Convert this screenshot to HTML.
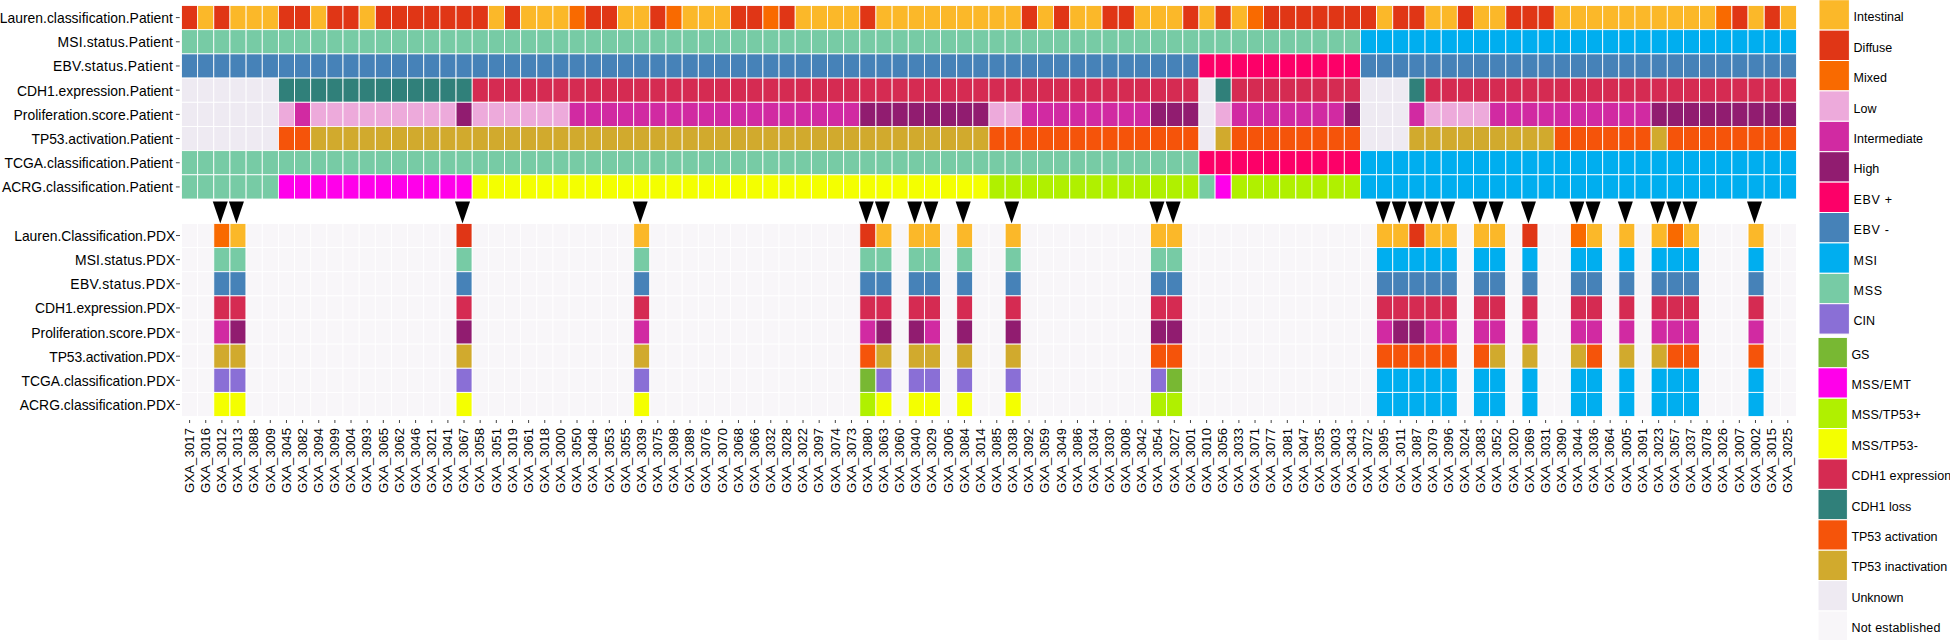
<!DOCTYPE html><html><head><meta charset="utf-8"><title>heatmap</title><style>html,body{margin:0;padding:0;background:#fff}svg{display:block}text{font-family:"Liberation Sans",sans-serif;fill:#000}</style></head><body>
<svg width="1950" height="640" viewBox="0 0 1950 640">
<rect width="1950" height="640" fill="#fff"/>
<g stroke="#fff" stroke-width="0.85">
<rect x="181.50" y="5.50" width="16.15" height="24.19" fill="#E03616"/>
<rect x="197.65" y="5.50" width="16.15" height="24.19" fill="#FBB829"/>
<rect x="213.80" y="5.50" width="16.15" height="24.19" fill="#E03616"/>
<rect x="229.95" y="5.50" width="16.15" height="24.19" fill="#FBB829"/>
<rect x="246.10" y="5.50" width="16.15" height="24.19" fill="#FBB829"/>
<rect x="262.25" y="5.50" width="16.15" height="24.19" fill="#FBB829"/>
<rect x="278.40" y="5.50" width="16.15" height="24.19" fill="#E03616"/>
<rect x="294.55" y="5.50" width="16.15" height="24.19" fill="#E03616"/>
<rect x="310.70" y="5.50" width="16.15" height="24.19" fill="#FBB829"/>
<rect x="326.85" y="5.50" width="16.15" height="24.19" fill="#E03616"/>
<rect x="343.00" y="5.50" width="16.15" height="24.19" fill="#E03616"/>
<rect x="359.15" y="5.50" width="16.15" height="24.19" fill="#FBB829"/>
<rect x="375.30" y="5.50" width="16.15" height="24.19" fill="#E03616"/>
<rect x="391.45" y="5.50" width="16.15" height="24.19" fill="#E03616"/>
<rect x="407.60" y="5.50" width="16.15" height="24.19" fill="#E03616"/>
<rect x="423.75" y="5.50" width="16.15" height="24.19" fill="#E03616"/>
<rect x="439.90" y="5.50" width="16.15" height="24.19" fill="#E03616"/>
<rect x="456.05" y="5.50" width="16.15" height="24.19" fill="#E03616"/>
<rect x="472.20" y="5.50" width="16.15" height="24.19" fill="#E03616"/>
<rect x="488.35" y="5.50" width="16.15" height="24.19" fill="#FBB829"/>
<rect x="504.50" y="5.50" width="16.15" height="24.19" fill="#E03616"/>
<rect x="520.65" y="5.50" width="16.15" height="24.19" fill="#FBB829"/>
<rect x="536.80" y="5.50" width="16.15" height="24.19" fill="#FBB829"/>
<rect x="552.95" y="5.50" width="16.15" height="24.19" fill="#FBB829"/>
<rect x="569.10" y="5.50" width="16.15" height="24.19" fill="#F96A00"/>
<rect x="585.25" y="5.50" width="16.15" height="24.19" fill="#E03616"/>
<rect x="601.40" y="5.50" width="16.15" height="24.19" fill="#E03616"/>
<rect x="617.55" y="5.50" width="16.15" height="24.19" fill="#FBB829"/>
<rect x="633.70" y="5.50" width="16.15" height="24.19" fill="#FBB829"/>
<rect x="649.85" y="5.50" width="16.15" height="24.19" fill="#E03616"/>
<rect x="666.00" y="5.50" width="16.15" height="24.19" fill="#F96A00"/>
<rect x="682.15" y="5.50" width="16.15" height="24.19" fill="#FBB829"/>
<rect x="698.30" y="5.50" width="16.15" height="24.19" fill="#FBB829"/>
<rect x="714.45" y="5.50" width="16.15" height="24.19" fill="#FBB829"/>
<rect x="730.60" y="5.50" width="16.15" height="24.19" fill="#E03616"/>
<rect x="746.75" y="5.50" width="16.15" height="24.19" fill="#E03616"/>
<rect x="762.90" y="5.50" width="16.15" height="24.19" fill="#F96A00"/>
<rect x="779.05" y="5.50" width="16.15" height="24.19" fill="#E03616"/>
<rect x="795.20" y="5.50" width="16.15" height="24.19" fill="#FBB829"/>
<rect x="811.35" y="5.50" width="16.15" height="24.19" fill="#FBB829"/>
<rect x="827.50" y="5.50" width="16.15" height="24.19" fill="#FBB829"/>
<rect x="843.65" y="5.50" width="16.15" height="24.19" fill="#FBB829"/>
<rect x="859.80" y="5.50" width="16.15" height="24.19" fill="#E03616"/>
<rect x="875.95" y="5.50" width="16.15" height="24.19" fill="#FBB829"/>
<rect x="892.10" y="5.50" width="16.15" height="24.19" fill="#FBB829"/>
<rect x="908.25" y="5.50" width="16.15" height="24.19" fill="#FBB829"/>
<rect x="924.40" y="5.50" width="16.15" height="24.19" fill="#FBB829"/>
<rect x="940.55" y="5.50" width="16.15" height="24.19" fill="#FBB829"/>
<rect x="956.70" y="5.50" width="16.15" height="24.19" fill="#FBB829"/>
<rect x="972.85" y="5.50" width="16.15" height="24.19" fill="#FBB829"/>
<rect x="989.00" y="5.50" width="16.15" height="24.19" fill="#FBB829"/>
<rect x="1005.15" y="5.50" width="16.15" height="24.19" fill="#FBB829"/>
<rect x="1021.30" y="5.50" width="16.15" height="24.19" fill="#E03616"/>
<rect x="1037.45" y="5.50" width="16.15" height="24.19" fill="#FBB829"/>
<rect x="1053.60" y="5.50" width="16.15" height="24.19" fill="#E03616"/>
<rect x="1069.75" y="5.50" width="16.15" height="24.19" fill="#FBB829"/>
<rect x="1085.90" y="5.50" width="16.15" height="24.19" fill="#FBB829"/>
<rect x="1102.05" y="5.50" width="16.15" height="24.19" fill="#E03616"/>
<rect x="1118.20" y="5.50" width="16.15" height="24.19" fill="#E03616"/>
<rect x="1134.35" y="5.50" width="16.15" height="24.19" fill="#FBB829"/>
<rect x="1150.50" y="5.50" width="16.15" height="24.19" fill="#FBB829"/>
<rect x="1166.65" y="5.50" width="16.15" height="24.19" fill="#FBB829"/>
<rect x="1182.80" y="5.50" width="16.15" height="24.19" fill="#E03616"/>
<rect x="1198.95" y="5.50" width="16.15" height="24.19" fill="#FBB829"/>
<rect x="1215.10" y="5.50" width="16.15" height="24.19" fill="#E03616"/>
<rect x="1231.25" y="5.50" width="16.15" height="24.19" fill="#FBB829"/>
<rect x="1247.40" y="5.50" width="16.15" height="24.19" fill="#F96A00"/>
<rect x="1263.55" y="5.50" width="16.15" height="24.19" fill="#E03616"/>
<rect x="1279.70" y="5.50" width="16.15" height="24.19" fill="#E03616"/>
<rect x="1295.85" y="5.50" width="16.15" height="24.19" fill="#E03616"/>
<rect x="1312.00" y="5.50" width="16.15" height="24.19" fill="#E03616"/>
<rect x="1328.15" y="5.50" width="16.15" height="24.19" fill="#E03616"/>
<rect x="1344.30" y="5.50" width="16.15" height="24.19" fill="#E03616"/>
<rect x="1360.45" y="5.50" width="16.15" height="24.19" fill="#E03616"/>
<rect x="1376.60" y="5.50" width="16.15" height="24.19" fill="#FBB829"/>
<rect x="1392.75" y="5.50" width="16.15" height="24.19" fill="#E03616"/>
<rect x="1408.90" y="5.50" width="16.15" height="24.19" fill="#E03616"/>
<rect x="1425.05" y="5.50" width="16.15" height="24.19" fill="#FBB829"/>
<rect x="1441.20" y="5.50" width="16.15" height="24.19" fill="#FBB829"/>
<rect x="1457.35" y="5.50" width="16.15" height="24.19" fill="#E03616"/>
<rect x="1473.50" y="5.50" width="16.15" height="24.19" fill="#FBB829"/>
<rect x="1489.65" y="5.50" width="16.15" height="24.19" fill="#FBB829"/>
<rect x="1505.80" y="5.50" width="16.15" height="24.19" fill="#E03616"/>
<rect x="1521.95" y="5.50" width="16.15" height="24.19" fill="#E03616"/>
<rect x="1538.10" y="5.50" width="16.15" height="24.19" fill="#E03616"/>
<rect x="1554.25" y="5.50" width="16.15" height="24.19" fill="#FBB829"/>
<rect x="1570.40" y="5.50" width="16.15" height="24.19" fill="#FBB829"/>
<rect x="1586.55" y="5.50" width="16.15" height="24.19" fill="#FBB829"/>
<rect x="1602.70" y="5.50" width="16.15" height="24.19" fill="#FBB829"/>
<rect x="1618.85" y="5.50" width="16.15" height="24.19" fill="#FBB829"/>
<rect x="1635.00" y="5.50" width="16.15" height="24.19" fill="#FBB829"/>
<rect x="1651.15" y="5.50" width="16.15" height="24.19" fill="#FBB829"/>
<rect x="1667.30" y="5.50" width="16.15" height="24.19" fill="#FBB829"/>
<rect x="1683.45" y="5.50" width="16.15" height="24.19" fill="#FBB829"/>
<rect x="1699.60" y="5.50" width="16.15" height="24.19" fill="#FBB829"/>
<rect x="1715.75" y="5.50" width="16.15" height="24.19" fill="#F96A00"/>
<rect x="1731.90" y="5.50" width="16.15" height="24.19" fill="#E03616"/>
<rect x="1748.05" y="5.50" width="16.15" height="24.19" fill="#FBB829"/>
<rect x="1764.20" y="5.50" width="16.15" height="24.19" fill="#E03616"/>
<rect x="1780.35" y="5.50" width="16.15" height="24.19" fill="#FBB829"/>
<rect x="181.50" y="29.69" width="16.15" height="24.19" fill="#77CBA5"/>
<rect x="197.65" y="29.69" width="16.15" height="24.19" fill="#77CBA5"/>
<rect x="213.80" y="29.69" width="16.15" height="24.19" fill="#77CBA5"/>
<rect x="229.95" y="29.69" width="16.15" height="24.19" fill="#77CBA5"/>
<rect x="246.10" y="29.69" width="16.15" height="24.19" fill="#77CBA5"/>
<rect x="262.25" y="29.69" width="16.15" height="24.19" fill="#77CBA5"/>
<rect x="278.40" y="29.69" width="16.15" height="24.19" fill="#77CBA5"/>
<rect x="294.55" y="29.69" width="16.15" height="24.19" fill="#77CBA5"/>
<rect x="310.70" y="29.69" width="16.15" height="24.19" fill="#77CBA5"/>
<rect x="326.85" y="29.69" width="16.15" height="24.19" fill="#77CBA5"/>
<rect x="343.00" y="29.69" width="16.15" height="24.19" fill="#77CBA5"/>
<rect x="359.15" y="29.69" width="16.15" height="24.19" fill="#77CBA5"/>
<rect x="375.30" y="29.69" width="16.15" height="24.19" fill="#77CBA5"/>
<rect x="391.45" y="29.69" width="16.15" height="24.19" fill="#77CBA5"/>
<rect x="407.60" y="29.69" width="16.15" height="24.19" fill="#77CBA5"/>
<rect x="423.75" y="29.69" width="16.15" height="24.19" fill="#77CBA5"/>
<rect x="439.90" y="29.69" width="16.15" height="24.19" fill="#77CBA5"/>
<rect x="456.05" y="29.69" width="16.15" height="24.19" fill="#77CBA5"/>
<rect x="472.20" y="29.69" width="16.15" height="24.19" fill="#77CBA5"/>
<rect x="488.35" y="29.69" width="16.15" height="24.19" fill="#77CBA5"/>
<rect x="504.50" y="29.69" width="16.15" height="24.19" fill="#77CBA5"/>
<rect x="520.65" y="29.69" width="16.15" height="24.19" fill="#77CBA5"/>
<rect x="536.80" y="29.69" width="16.15" height="24.19" fill="#77CBA5"/>
<rect x="552.95" y="29.69" width="16.15" height="24.19" fill="#77CBA5"/>
<rect x="569.10" y="29.69" width="16.15" height="24.19" fill="#77CBA5"/>
<rect x="585.25" y="29.69" width="16.15" height="24.19" fill="#77CBA5"/>
<rect x="601.40" y="29.69" width="16.15" height="24.19" fill="#77CBA5"/>
<rect x="617.55" y="29.69" width="16.15" height="24.19" fill="#77CBA5"/>
<rect x="633.70" y="29.69" width="16.15" height="24.19" fill="#77CBA5"/>
<rect x="649.85" y="29.69" width="16.15" height="24.19" fill="#77CBA5"/>
<rect x="666.00" y="29.69" width="16.15" height="24.19" fill="#77CBA5"/>
<rect x="682.15" y="29.69" width="16.15" height="24.19" fill="#77CBA5"/>
<rect x="698.30" y="29.69" width="16.15" height="24.19" fill="#77CBA5"/>
<rect x="714.45" y="29.69" width="16.15" height="24.19" fill="#77CBA5"/>
<rect x="730.60" y="29.69" width="16.15" height="24.19" fill="#77CBA5"/>
<rect x="746.75" y="29.69" width="16.15" height="24.19" fill="#77CBA5"/>
<rect x="762.90" y="29.69" width="16.15" height="24.19" fill="#77CBA5"/>
<rect x="779.05" y="29.69" width="16.15" height="24.19" fill="#77CBA5"/>
<rect x="795.20" y="29.69" width="16.15" height="24.19" fill="#77CBA5"/>
<rect x="811.35" y="29.69" width="16.15" height="24.19" fill="#77CBA5"/>
<rect x="827.50" y="29.69" width="16.15" height="24.19" fill="#77CBA5"/>
<rect x="843.65" y="29.69" width="16.15" height="24.19" fill="#77CBA5"/>
<rect x="859.80" y="29.69" width="16.15" height="24.19" fill="#77CBA5"/>
<rect x="875.95" y="29.69" width="16.15" height="24.19" fill="#77CBA5"/>
<rect x="892.10" y="29.69" width="16.15" height="24.19" fill="#77CBA5"/>
<rect x="908.25" y="29.69" width="16.15" height="24.19" fill="#77CBA5"/>
<rect x="924.40" y="29.69" width="16.15" height="24.19" fill="#77CBA5"/>
<rect x="940.55" y="29.69" width="16.15" height="24.19" fill="#77CBA5"/>
<rect x="956.70" y="29.69" width="16.15" height="24.19" fill="#77CBA5"/>
<rect x="972.85" y="29.69" width="16.15" height="24.19" fill="#77CBA5"/>
<rect x="989.00" y="29.69" width="16.15" height="24.19" fill="#77CBA5"/>
<rect x="1005.15" y="29.69" width="16.15" height="24.19" fill="#77CBA5"/>
<rect x="1021.30" y="29.69" width="16.15" height="24.19" fill="#77CBA5"/>
<rect x="1037.45" y="29.69" width="16.15" height="24.19" fill="#77CBA5"/>
<rect x="1053.60" y="29.69" width="16.15" height="24.19" fill="#77CBA5"/>
<rect x="1069.75" y="29.69" width="16.15" height="24.19" fill="#77CBA5"/>
<rect x="1085.90" y="29.69" width="16.15" height="24.19" fill="#77CBA5"/>
<rect x="1102.05" y="29.69" width="16.15" height="24.19" fill="#77CBA5"/>
<rect x="1118.20" y="29.69" width="16.15" height="24.19" fill="#77CBA5"/>
<rect x="1134.35" y="29.69" width="16.15" height="24.19" fill="#77CBA5"/>
<rect x="1150.50" y="29.69" width="16.15" height="24.19" fill="#77CBA5"/>
<rect x="1166.65" y="29.69" width="16.15" height="24.19" fill="#77CBA5"/>
<rect x="1182.80" y="29.69" width="16.15" height="24.19" fill="#77CBA5"/>
<rect x="1198.95" y="29.69" width="16.15" height="24.19" fill="#77CBA5"/>
<rect x="1215.10" y="29.69" width="16.15" height="24.19" fill="#77CBA5"/>
<rect x="1231.25" y="29.69" width="16.15" height="24.19" fill="#77CBA5"/>
<rect x="1247.40" y="29.69" width="16.15" height="24.19" fill="#77CBA5"/>
<rect x="1263.55" y="29.69" width="16.15" height="24.19" fill="#77CBA5"/>
<rect x="1279.70" y="29.69" width="16.15" height="24.19" fill="#77CBA5"/>
<rect x="1295.85" y="29.69" width="16.15" height="24.19" fill="#77CBA5"/>
<rect x="1312.00" y="29.69" width="16.15" height="24.19" fill="#77CBA5"/>
<rect x="1328.15" y="29.69" width="16.15" height="24.19" fill="#77CBA5"/>
<rect x="1344.30" y="29.69" width="16.15" height="24.19" fill="#77CBA5"/>
<rect x="1360.45" y="29.69" width="16.15" height="24.19" fill="#00AEEF"/>
<rect x="1376.60" y="29.69" width="16.15" height="24.19" fill="#00AEEF"/>
<rect x="1392.75" y="29.69" width="16.15" height="24.19" fill="#00AEEF"/>
<rect x="1408.90" y="29.69" width="16.15" height="24.19" fill="#00AEEF"/>
<rect x="1425.05" y="29.69" width="16.15" height="24.19" fill="#00AEEF"/>
<rect x="1441.20" y="29.69" width="16.15" height="24.19" fill="#00AEEF"/>
<rect x="1457.35" y="29.69" width="16.15" height="24.19" fill="#00AEEF"/>
<rect x="1473.50" y="29.69" width="16.15" height="24.19" fill="#00AEEF"/>
<rect x="1489.65" y="29.69" width="16.15" height="24.19" fill="#00AEEF"/>
<rect x="1505.80" y="29.69" width="16.15" height="24.19" fill="#00AEEF"/>
<rect x="1521.95" y="29.69" width="16.15" height="24.19" fill="#00AEEF"/>
<rect x="1538.10" y="29.69" width="16.15" height="24.19" fill="#00AEEF"/>
<rect x="1554.25" y="29.69" width="16.15" height="24.19" fill="#00AEEF"/>
<rect x="1570.40" y="29.69" width="16.15" height="24.19" fill="#00AEEF"/>
<rect x="1586.55" y="29.69" width="16.15" height="24.19" fill="#00AEEF"/>
<rect x="1602.70" y="29.69" width="16.15" height="24.19" fill="#00AEEF"/>
<rect x="1618.85" y="29.69" width="16.15" height="24.19" fill="#00AEEF"/>
<rect x="1635.00" y="29.69" width="16.15" height="24.19" fill="#00AEEF"/>
<rect x="1651.15" y="29.69" width="16.15" height="24.19" fill="#00AEEF"/>
<rect x="1667.30" y="29.69" width="16.15" height="24.19" fill="#00AEEF"/>
<rect x="1683.45" y="29.69" width="16.15" height="24.19" fill="#00AEEF"/>
<rect x="1699.60" y="29.69" width="16.15" height="24.19" fill="#00AEEF"/>
<rect x="1715.75" y="29.69" width="16.15" height="24.19" fill="#00AEEF"/>
<rect x="1731.90" y="29.69" width="16.15" height="24.19" fill="#00AEEF"/>
<rect x="1748.05" y="29.69" width="16.15" height="24.19" fill="#00AEEF"/>
<rect x="1764.20" y="29.69" width="16.15" height="24.19" fill="#00AEEF"/>
<rect x="1780.35" y="29.69" width="16.15" height="24.19" fill="#00AEEF"/>
<rect x="181.50" y="53.88" width="16.15" height="24.19" fill="#4682B8"/>
<rect x="197.65" y="53.88" width="16.15" height="24.19" fill="#4682B8"/>
<rect x="213.80" y="53.88" width="16.15" height="24.19" fill="#4682B8"/>
<rect x="229.95" y="53.88" width="16.15" height="24.19" fill="#4682B8"/>
<rect x="246.10" y="53.88" width="16.15" height="24.19" fill="#4682B8"/>
<rect x="262.25" y="53.88" width="16.15" height="24.19" fill="#4682B8"/>
<rect x="278.40" y="53.88" width="16.15" height="24.19" fill="#4682B8"/>
<rect x="294.55" y="53.88" width="16.15" height="24.19" fill="#4682B8"/>
<rect x="310.70" y="53.88" width="16.15" height="24.19" fill="#4682B8"/>
<rect x="326.85" y="53.88" width="16.15" height="24.19" fill="#4682B8"/>
<rect x="343.00" y="53.88" width="16.15" height="24.19" fill="#4682B8"/>
<rect x="359.15" y="53.88" width="16.15" height="24.19" fill="#4682B8"/>
<rect x="375.30" y="53.88" width="16.15" height="24.19" fill="#4682B8"/>
<rect x="391.45" y="53.88" width="16.15" height="24.19" fill="#4682B8"/>
<rect x="407.60" y="53.88" width="16.15" height="24.19" fill="#4682B8"/>
<rect x="423.75" y="53.88" width="16.15" height="24.19" fill="#4682B8"/>
<rect x="439.90" y="53.88" width="16.15" height="24.19" fill="#4682B8"/>
<rect x="456.05" y="53.88" width="16.15" height="24.19" fill="#4682B8"/>
<rect x="472.20" y="53.88" width="16.15" height="24.19" fill="#4682B8"/>
<rect x="488.35" y="53.88" width="16.15" height="24.19" fill="#4682B8"/>
<rect x="504.50" y="53.88" width="16.15" height="24.19" fill="#4682B8"/>
<rect x="520.65" y="53.88" width="16.15" height="24.19" fill="#4682B8"/>
<rect x="536.80" y="53.88" width="16.15" height="24.19" fill="#4682B8"/>
<rect x="552.95" y="53.88" width="16.15" height="24.19" fill="#4682B8"/>
<rect x="569.10" y="53.88" width="16.15" height="24.19" fill="#4682B8"/>
<rect x="585.25" y="53.88" width="16.15" height="24.19" fill="#4682B8"/>
<rect x="601.40" y="53.88" width="16.15" height="24.19" fill="#4682B8"/>
<rect x="617.55" y="53.88" width="16.15" height="24.19" fill="#4682B8"/>
<rect x="633.70" y="53.88" width="16.15" height="24.19" fill="#4682B8"/>
<rect x="649.85" y="53.88" width="16.15" height="24.19" fill="#4682B8"/>
<rect x="666.00" y="53.88" width="16.15" height="24.19" fill="#4682B8"/>
<rect x="682.15" y="53.88" width="16.15" height="24.19" fill="#4682B8"/>
<rect x="698.30" y="53.88" width="16.15" height="24.19" fill="#4682B8"/>
<rect x="714.45" y="53.88" width="16.15" height="24.19" fill="#4682B8"/>
<rect x="730.60" y="53.88" width="16.15" height="24.19" fill="#4682B8"/>
<rect x="746.75" y="53.88" width="16.15" height="24.19" fill="#4682B8"/>
<rect x="762.90" y="53.88" width="16.15" height="24.19" fill="#4682B8"/>
<rect x="779.05" y="53.88" width="16.15" height="24.19" fill="#4682B8"/>
<rect x="795.20" y="53.88" width="16.15" height="24.19" fill="#4682B8"/>
<rect x="811.35" y="53.88" width="16.15" height="24.19" fill="#4682B8"/>
<rect x="827.50" y="53.88" width="16.15" height="24.19" fill="#4682B8"/>
<rect x="843.65" y="53.88" width="16.15" height="24.19" fill="#4682B8"/>
<rect x="859.80" y="53.88" width="16.15" height="24.19" fill="#4682B8"/>
<rect x="875.95" y="53.88" width="16.15" height="24.19" fill="#4682B8"/>
<rect x="892.10" y="53.88" width="16.15" height="24.19" fill="#4682B8"/>
<rect x="908.25" y="53.88" width="16.15" height="24.19" fill="#4682B8"/>
<rect x="924.40" y="53.88" width="16.15" height="24.19" fill="#4682B8"/>
<rect x="940.55" y="53.88" width="16.15" height="24.19" fill="#4682B8"/>
<rect x="956.70" y="53.88" width="16.15" height="24.19" fill="#4682B8"/>
<rect x="972.85" y="53.88" width="16.15" height="24.19" fill="#4682B8"/>
<rect x="989.00" y="53.88" width="16.15" height="24.19" fill="#4682B8"/>
<rect x="1005.15" y="53.88" width="16.15" height="24.19" fill="#4682B8"/>
<rect x="1021.30" y="53.88" width="16.15" height="24.19" fill="#4682B8"/>
<rect x="1037.45" y="53.88" width="16.15" height="24.19" fill="#4682B8"/>
<rect x="1053.60" y="53.88" width="16.15" height="24.19" fill="#4682B8"/>
<rect x="1069.75" y="53.88" width="16.15" height="24.19" fill="#4682B8"/>
<rect x="1085.90" y="53.88" width="16.15" height="24.19" fill="#4682B8"/>
<rect x="1102.05" y="53.88" width="16.15" height="24.19" fill="#4682B8"/>
<rect x="1118.20" y="53.88" width="16.15" height="24.19" fill="#4682B8"/>
<rect x="1134.35" y="53.88" width="16.15" height="24.19" fill="#4682B8"/>
<rect x="1150.50" y="53.88" width="16.15" height="24.19" fill="#4682B8"/>
<rect x="1166.65" y="53.88" width="16.15" height="24.19" fill="#4682B8"/>
<rect x="1182.80" y="53.88" width="16.15" height="24.19" fill="#4682B8"/>
<rect x="1198.95" y="53.88" width="16.15" height="24.19" fill="#FC0068"/>
<rect x="1215.10" y="53.88" width="16.15" height="24.19" fill="#FC0068"/>
<rect x="1231.25" y="53.88" width="16.15" height="24.19" fill="#FC0068"/>
<rect x="1247.40" y="53.88" width="16.15" height="24.19" fill="#FC0068"/>
<rect x="1263.55" y="53.88" width="16.15" height="24.19" fill="#FC0068"/>
<rect x="1279.70" y="53.88" width="16.15" height="24.19" fill="#FC0068"/>
<rect x="1295.85" y="53.88" width="16.15" height="24.19" fill="#FC0068"/>
<rect x="1312.00" y="53.88" width="16.15" height="24.19" fill="#FC0068"/>
<rect x="1328.15" y="53.88" width="16.15" height="24.19" fill="#FC0068"/>
<rect x="1344.30" y="53.88" width="16.15" height="24.19" fill="#FC0068"/>
<rect x="1360.45" y="53.88" width="16.15" height="24.19" fill="#4682B8"/>
<rect x="1376.60" y="53.88" width="16.15" height="24.19" fill="#4682B8"/>
<rect x="1392.75" y="53.88" width="16.15" height="24.19" fill="#4682B8"/>
<rect x="1408.90" y="53.88" width="16.15" height="24.19" fill="#4682B8"/>
<rect x="1425.05" y="53.88" width="16.15" height="24.19" fill="#4682B8"/>
<rect x="1441.20" y="53.88" width="16.15" height="24.19" fill="#4682B8"/>
<rect x="1457.35" y="53.88" width="16.15" height="24.19" fill="#4682B8"/>
<rect x="1473.50" y="53.88" width="16.15" height="24.19" fill="#4682B8"/>
<rect x="1489.65" y="53.88" width="16.15" height="24.19" fill="#4682B8"/>
<rect x="1505.80" y="53.88" width="16.15" height="24.19" fill="#4682B8"/>
<rect x="1521.95" y="53.88" width="16.15" height="24.19" fill="#4682B8"/>
<rect x="1538.10" y="53.88" width="16.15" height="24.19" fill="#4682B8"/>
<rect x="1554.25" y="53.88" width="16.15" height="24.19" fill="#4682B8"/>
<rect x="1570.40" y="53.88" width="16.15" height="24.19" fill="#4682B8"/>
<rect x="1586.55" y="53.88" width="16.15" height="24.19" fill="#4682B8"/>
<rect x="1602.70" y="53.88" width="16.15" height="24.19" fill="#4682B8"/>
<rect x="1618.85" y="53.88" width="16.15" height="24.19" fill="#4682B8"/>
<rect x="1635.00" y="53.88" width="16.15" height="24.19" fill="#4682B8"/>
<rect x="1651.15" y="53.88" width="16.15" height="24.19" fill="#4682B8"/>
<rect x="1667.30" y="53.88" width="16.15" height="24.19" fill="#4682B8"/>
<rect x="1683.45" y="53.88" width="16.15" height="24.19" fill="#4682B8"/>
<rect x="1699.60" y="53.88" width="16.15" height="24.19" fill="#4682B8"/>
<rect x="1715.75" y="53.88" width="16.15" height="24.19" fill="#4682B8"/>
<rect x="1731.90" y="53.88" width="16.15" height="24.19" fill="#4682B8"/>
<rect x="1748.05" y="53.88" width="16.15" height="24.19" fill="#4682B8"/>
<rect x="1764.20" y="53.88" width="16.15" height="24.19" fill="#4682B8"/>
<rect x="1780.35" y="53.88" width="16.15" height="24.19" fill="#4682B8"/>
<rect x="181.50" y="78.07" width="16.15" height="24.19" fill="#EEEAF2"/>
<rect x="197.65" y="78.07" width="16.15" height="24.19" fill="#EEEAF2"/>
<rect x="213.80" y="78.07" width="16.15" height="24.19" fill="#EEEAF2"/>
<rect x="229.95" y="78.07" width="16.15" height="24.19" fill="#EEEAF2"/>
<rect x="246.10" y="78.07" width="16.15" height="24.19" fill="#EEEAF2"/>
<rect x="262.25" y="78.07" width="16.15" height="24.19" fill="#EEEAF2"/>
<rect x="278.40" y="78.07" width="16.15" height="24.19" fill="#30807A"/>
<rect x="294.55" y="78.07" width="16.15" height="24.19" fill="#30807A"/>
<rect x="310.70" y="78.07" width="16.15" height="24.19" fill="#30807A"/>
<rect x="326.85" y="78.07" width="16.15" height="24.19" fill="#30807A"/>
<rect x="343.00" y="78.07" width="16.15" height="24.19" fill="#30807A"/>
<rect x="359.15" y="78.07" width="16.15" height="24.19" fill="#30807A"/>
<rect x="375.30" y="78.07" width="16.15" height="24.19" fill="#30807A"/>
<rect x="391.45" y="78.07" width="16.15" height="24.19" fill="#30807A"/>
<rect x="407.60" y="78.07" width="16.15" height="24.19" fill="#30807A"/>
<rect x="423.75" y="78.07" width="16.15" height="24.19" fill="#30807A"/>
<rect x="439.90" y="78.07" width="16.15" height="24.19" fill="#30807A"/>
<rect x="456.05" y="78.07" width="16.15" height="24.19" fill="#30807A"/>
<rect x="472.20" y="78.07" width="16.15" height="24.19" fill="#D52B52"/>
<rect x="488.35" y="78.07" width="16.15" height="24.19" fill="#D52B52"/>
<rect x="504.50" y="78.07" width="16.15" height="24.19" fill="#D52B52"/>
<rect x="520.65" y="78.07" width="16.15" height="24.19" fill="#D52B52"/>
<rect x="536.80" y="78.07" width="16.15" height="24.19" fill="#D52B52"/>
<rect x="552.95" y="78.07" width="16.15" height="24.19" fill="#D52B52"/>
<rect x="569.10" y="78.07" width="16.15" height="24.19" fill="#D52B52"/>
<rect x="585.25" y="78.07" width="16.15" height="24.19" fill="#D52B52"/>
<rect x="601.40" y="78.07" width="16.15" height="24.19" fill="#D52B52"/>
<rect x="617.55" y="78.07" width="16.15" height="24.19" fill="#D52B52"/>
<rect x="633.70" y="78.07" width="16.15" height="24.19" fill="#D52B52"/>
<rect x="649.85" y="78.07" width="16.15" height="24.19" fill="#D52B52"/>
<rect x="666.00" y="78.07" width="16.15" height="24.19" fill="#D52B52"/>
<rect x="682.15" y="78.07" width="16.15" height="24.19" fill="#D52B52"/>
<rect x="698.30" y="78.07" width="16.15" height="24.19" fill="#D52B52"/>
<rect x="714.45" y="78.07" width="16.15" height="24.19" fill="#D52B52"/>
<rect x="730.60" y="78.07" width="16.15" height="24.19" fill="#D52B52"/>
<rect x="746.75" y="78.07" width="16.15" height="24.19" fill="#D52B52"/>
<rect x="762.90" y="78.07" width="16.15" height="24.19" fill="#D52B52"/>
<rect x="779.05" y="78.07" width="16.15" height="24.19" fill="#D52B52"/>
<rect x="795.20" y="78.07" width="16.15" height="24.19" fill="#D52B52"/>
<rect x="811.35" y="78.07" width="16.15" height="24.19" fill="#D52B52"/>
<rect x="827.50" y="78.07" width="16.15" height="24.19" fill="#D52B52"/>
<rect x="843.65" y="78.07" width="16.15" height="24.19" fill="#D52B52"/>
<rect x="859.80" y="78.07" width="16.15" height="24.19" fill="#D52B52"/>
<rect x="875.95" y="78.07" width="16.15" height="24.19" fill="#D52B52"/>
<rect x="892.10" y="78.07" width="16.15" height="24.19" fill="#D52B52"/>
<rect x="908.25" y="78.07" width="16.15" height="24.19" fill="#D52B52"/>
<rect x="924.40" y="78.07" width="16.15" height="24.19" fill="#D52B52"/>
<rect x="940.55" y="78.07" width="16.15" height="24.19" fill="#D52B52"/>
<rect x="956.70" y="78.07" width="16.15" height="24.19" fill="#D52B52"/>
<rect x="972.85" y="78.07" width="16.15" height="24.19" fill="#D52B52"/>
<rect x="989.00" y="78.07" width="16.15" height="24.19" fill="#D52B52"/>
<rect x="1005.15" y="78.07" width="16.15" height="24.19" fill="#D52B52"/>
<rect x="1021.30" y="78.07" width="16.15" height="24.19" fill="#D52B52"/>
<rect x="1037.45" y="78.07" width="16.15" height="24.19" fill="#D52B52"/>
<rect x="1053.60" y="78.07" width="16.15" height="24.19" fill="#D52B52"/>
<rect x="1069.75" y="78.07" width="16.15" height="24.19" fill="#D52B52"/>
<rect x="1085.90" y="78.07" width="16.15" height="24.19" fill="#D52B52"/>
<rect x="1102.05" y="78.07" width="16.15" height="24.19" fill="#D52B52"/>
<rect x="1118.20" y="78.07" width="16.15" height="24.19" fill="#D52B52"/>
<rect x="1134.35" y="78.07" width="16.15" height="24.19" fill="#D52B52"/>
<rect x="1150.50" y="78.07" width="16.15" height="24.19" fill="#D52B52"/>
<rect x="1166.65" y="78.07" width="16.15" height="24.19" fill="#D52B52"/>
<rect x="1182.80" y="78.07" width="16.15" height="24.19" fill="#D52B52"/>
<rect x="1198.95" y="78.07" width="16.15" height="24.19" fill="#EEEAF2"/>
<rect x="1215.10" y="78.07" width="16.15" height="24.19" fill="#30807A"/>
<rect x="1231.25" y="78.07" width="16.15" height="24.19" fill="#D52B52"/>
<rect x="1247.40" y="78.07" width="16.15" height="24.19" fill="#D52B52"/>
<rect x="1263.55" y="78.07" width="16.15" height="24.19" fill="#D52B52"/>
<rect x="1279.70" y="78.07" width="16.15" height="24.19" fill="#D52B52"/>
<rect x="1295.85" y="78.07" width="16.15" height="24.19" fill="#D52B52"/>
<rect x="1312.00" y="78.07" width="16.15" height="24.19" fill="#D52B52"/>
<rect x="1328.15" y="78.07" width="16.15" height="24.19" fill="#D52B52"/>
<rect x="1344.30" y="78.07" width="16.15" height="24.19" fill="#D52B52"/>
<rect x="1360.45" y="78.07" width="16.15" height="24.19" fill="#EEEAF2"/>
<rect x="1376.60" y="78.07" width="16.15" height="24.19" fill="#EEEAF2"/>
<rect x="1392.75" y="78.07" width="16.15" height="24.19" fill="#EEEAF2"/>
<rect x="1408.90" y="78.07" width="16.15" height="24.19" fill="#30807A"/>
<rect x="1425.05" y="78.07" width="16.15" height="24.19" fill="#D52B52"/>
<rect x="1441.20" y="78.07" width="16.15" height="24.19" fill="#D52B52"/>
<rect x="1457.35" y="78.07" width="16.15" height="24.19" fill="#D52B52"/>
<rect x="1473.50" y="78.07" width="16.15" height="24.19" fill="#D52B52"/>
<rect x="1489.65" y="78.07" width="16.15" height="24.19" fill="#D52B52"/>
<rect x="1505.80" y="78.07" width="16.15" height="24.19" fill="#D52B52"/>
<rect x="1521.95" y="78.07" width="16.15" height="24.19" fill="#D52B52"/>
<rect x="1538.10" y="78.07" width="16.15" height="24.19" fill="#D52B52"/>
<rect x="1554.25" y="78.07" width="16.15" height="24.19" fill="#D52B52"/>
<rect x="1570.40" y="78.07" width="16.15" height="24.19" fill="#D52B52"/>
<rect x="1586.55" y="78.07" width="16.15" height="24.19" fill="#D52B52"/>
<rect x="1602.70" y="78.07" width="16.15" height="24.19" fill="#D52B52"/>
<rect x="1618.85" y="78.07" width="16.15" height="24.19" fill="#D52B52"/>
<rect x="1635.00" y="78.07" width="16.15" height="24.19" fill="#D52B52"/>
<rect x="1651.15" y="78.07" width="16.15" height="24.19" fill="#D52B52"/>
<rect x="1667.30" y="78.07" width="16.15" height="24.19" fill="#D52B52"/>
<rect x="1683.45" y="78.07" width="16.15" height="24.19" fill="#D52B52"/>
<rect x="1699.60" y="78.07" width="16.15" height="24.19" fill="#D52B52"/>
<rect x="1715.75" y="78.07" width="16.15" height="24.19" fill="#D52B52"/>
<rect x="1731.90" y="78.07" width="16.15" height="24.19" fill="#D52B52"/>
<rect x="1748.05" y="78.07" width="16.15" height="24.19" fill="#D52B52"/>
<rect x="1764.20" y="78.07" width="16.15" height="24.19" fill="#D52B52"/>
<rect x="1780.35" y="78.07" width="16.15" height="24.19" fill="#D52B52"/>
<rect x="181.50" y="102.26" width="16.15" height="24.19" fill="#EEEAF2"/>
<rect x="197.65" y="102.26" width="16.15" height="24.19" fill="#EEEAF2"/>
<rect x="213.80" y="102.26" width="16.15" height="24.19" fill="#EEEAF2"/>
<rect x="229.95" y="102.26" width="16.15" height="24.19" fill="#EEEAF2"/>
<rect x="246.10" y="102.26" width="16.15" height="24.19" fill="#EEEAF2"/>
<rect x="262.25" y="102.26" width="16.15" height="24.19" fill="#EEEAF2"/>
<rect x="278.40" y="102.26" width="16.15" height="24.19" fill="#EDAADB"/>
<rect x="294.55" y="102.26" width="16.15" height="24.19" fill="#D12AA2"/>
<rect x="310.70" y="102.26" width="16.15" height="24.19" fill="#EDAADB"/>
<rect x="326.85" y="102.26" width="16.15" height="24.19" fill="#EDAADB"/>
<rect x="343.00" y="102.26" width="16.15" height="24.19" fill="#EDAADB"/>
<rect x="359.15" y="102.26" width="16.15" height="24.19" fill="#EDAADB"/>
<rect x="375.30" y="102.26" width="16.15" height="24.19" fill="#EDAADB"/>
<rect x="391.45" y="102.26" width="16.15" height="24.19" fill="#EDAADB"/>
<rect x="407.60" y="102.26" width="16.15" height="24.19" fill="#EDAADB"/>
<rect x="423.75" y="102.26" width="16.15" height="24.19" fill="#EDAADB"/>
<rect x="439.90" y="102.26" width="16.15" height="24.19" fill="#EDAADB"/>
<rect x="456.05" y="102.26" width="16.15" height="24.19" fill="#911C70"/>
<rect x="472.20" y="102.26" width="16.15" height="24.19" fill="#EDAADB"/>
<rect x="488.35" y="102.26" width="16.15" height="24.19" fill="#EDAADB"/>
<rect x="504.50" y="102.26" width="16.15" height="24.19" fill="#EDAADB"/>
<rect x="520.65" y="102.26" width="16.15" height="24.19" fill="#EDAADB"/>
<rect x="536.80" y="102.26" width="16.15" height="24.19" fill="#EDAADB"/>
<rect x="552.95" y="102.26" width="16.15" height="24.19" fill="#EDAADB"/>
<rect x="569.10" y="102.26" width="16.15" height="24.19" fill="#D12AA2"/>
<rect x="585.25" y="102.26" width="16.15" height="24.19" fill="#D12AA2"/>
<rect x="601.40" y="102.26" width="16.15" height="24.19" fill="#D12AA2"/>
<rect x="617.55" y="102.26" width="16.15" height="24.19" fill="#D12AA2"/>
<rect x="633.70" y="102.26" width="16.15" height="24.19" fill="#D12AA2"/>
<rect x="649.85" y="102.26" width="16.15" height="24.19" fill="#D12AA2"/>
<rect x="666.00" y="102.26" width="16.15" height="24.19" fill="#D12AA2"/>
<rect x="682.15" y="102.26" width="16.15" height="24.19" fill="#D12AA2"/>
<rect x="698.30" y="102.26" width="16.15" height="24.19" fill="#D12AA2"/>
<rect x="714.45" y="102.26" width="16.15" height="24.19" fill="#D12AA2"/>
<rect x="730.60" y="102.26" width="16.15" height="24.19" fill="#D12AA2"/>
<rect x="746.75" y="102.26" width="16.15" height="24.19" fill="#D12AA2"/>
<rect x="762.90" y="102.26" width="16.15" height="24.19" fill="#D12AA2"/>
<rect x="779.05" y="102.26" width="16.15" height="24.19" fill="#D12AA2"/>
<rect x="795.20" y="102.26" width="16.15" height="24.19" fill="#D12AA2"/>
<rect x="811.35" y="102.26" width="16.15" height="24.19" fill="#D12AA2"/>
<rect x="827.50" y="102.26" width="16.15" height="24.19" fill="#D12AA2"/>
<rect x="843.65" y="102.26" width="16.15" height="24.19" fill="#D12AA2"/>
<rect x="859.80" y="102.26" width="16.15" height="24.19" fill="#911C70"/>
<rect x="875.95" y="102.26" width="16.15" height="24.19" fill="#911C70"/>
<rect x="892.10" y="102.26" width="16.15" height="24.19" fill="#911C70"/>
<rect x="908.25" y="102.26" width="16.15" height="24.19" fill="#911C70"/>
<rect x="924.40" y="102.26" width="16.15" height="24.19" fill="#911C70"/>
<rect x="940.55" y="102.26" width="16.15" height="24.19" fill="#911C70"/>
<rect x="956.70" y="102.26" width="16.15" height="24.19" fill="#911C70"/>
<rect x="972.85" y="102.26" width="16.15" height="24.19" fill="#911C70"/>
<rect x="989.00" y="102.26" width="16.15" height="24.19" fill="#EDAADB"/>
<rect x="1005.15" y="102.26" width="16.15" height="24.19" fill="#EDAADB"/>
<rect x="1021.30" y="102.26" width="16.15" height="24.19" fill="#D12AA2"/>
<rect x="1037.45" y="102.26" width="16.15" height="24.19" fill="#D12AA2"/>
<rect x="1053.60" y="102.26" width="16.15" height="24.19" fill="#D12AA2"/>
<rect x="1069.75" y="102.26" width="16.15" height="24.19" fill="#D12AA2"/>
<rect x="1085.90" y="102.26" width="16.15" height="24.19" fill="#D12AA2"/>
<rect x="1102.05" y="102.26" width="16.15" height="24.19" fill="#D12AA2"/>
<rect x="1118.20" y="102.26" width="16.15" height="24.19" fill="#D12AA2"/>
<rect x="1134.35" y="102.26" width="16.15" height="24.19" fill="#D12AA2"/>
<rect x="1150.50" y="102.26" width="16.15" height="24.19" fill="#911C70"/>
<rect x="1166.65" y="102.26" width="16.15" height="24.19" fill="#911C70"/>
<rect x="1182.80" y="102.26" width="16.15" height="24.19" fill="#911C70"/>
<rect x="1198.95" y="102.26" width="16.15" height="24.19" fill="#EEEAF2"/>
<rect x="1215.10" y="102.26" width="16.15" height="24.19" fill="#EDAADB"/>
<rect x="1231.25" y="102.26" width="16.15" height="24.19" fill="#D12AA2"/>
<rect x="1247.40" y="102.26" width="16.15" height="24.19" fill="#D12AA2"/>
<rect x="1263.55" y="102.26" width="16.15" height="24.19" fill="#D12AA2"/>
<rect x="1279.70" y="102.26" width="16.15" height="24.19" fill="#D12AA2"/>
<rect x="1295.85" y="102.26" width="16.15" height="24.19" fill="#D12AA2"/>
<rect x="1312.00" y="102.26" width="16.15" height="24.19" fill="#D12AA2"/>
<rect x="1328.15" y="102.26" width="16.15" height="24.19" fill="#D12AA2"/>
<rect x="1344.30" y="102.26" width="16.15" height="24.19" fill="#911C70"/>
<rect x="1360.45" y="102.26" width="16.15" height="24.19" fill="#EEEAF2"/>
<rect x="1376.60" y="102.26" width="16.15" height="24.19" fill="#EEEAF2"/>
<rect x="1392.75" y="102.26" width="16.15" height="24.19" fill="#EEEAF2"/>
<rect x="1408.90" y="102.26" width="16.15" height="24.19" fill="#D12AA2"/>
<rect x="1425.05" y="102.26" width="16.15" height="24.19" fill="#EDAADB"/>
<rect x="1441.20" y="102.26" width="16.15" height="24.19" fill="#EDAADB"/>
<rect x="1457.35" y="102.26" width="16.15" height="24.19" fill="#EDAADB"/>
<rect x="1473.50" y="102.26" width="16.15" height="24.19" fill="#EDAADB"/>
<rect x="1489.65" y="102.26" width="16.15" height="24.19" fill="#D12AA2"/>
<rect x="1505.80" y="102.26" width="16.15" height="24.19" fill="#D12AA2"/>
<rect x="1521.95" y="102.26" width="16.15" height="24.19" fill="#D12AA2"/>
<rect x="1538.10" y="102.26" width="16.15" height="24.19" fill="#D12AA2"/>
<rect x="1554.25" y="102.26" width="16.15" height="24.19" fill="#D12AA2"/>
<rect x="1570.40" y="102.26" width="16.15" height="24.19" fill="#D12AA2"/>
<rect x="1586.55" y="102.26" width="16.15" height="24.19" fill="#D12AA2"/>
<rect x="1602.70" y="102.26" width="16.15" height="24.19" fill="#D12AA2"/>
<rect x="1618.85" y="102.26" width="16.15" height="24.19" fill="#D12AA2"/>
<rect x="1635.00" y="102.26" width="16.15" height="24.19" fill="#D12AA2"/>
<rect x="1651.15" y="102.26" width="16.15" height="24.19" fill="#911C70"/>
<rect x="1667.30" y="102.26" width="16.15" height="24.19" fill="#911C70"/>
<rect x="1683.45" y="102.26" width="16.15" height="24.19" fill="#911C70"/>
<rect x="1699.60" y="102.26" width="16.15" height="24.19" fill="#911C70"/>
<rect x="1715.75" y="102.26" width="16.15" height="24.19" fill="#911C70"/>
<rect x="1731.90" y="102.26" width="16.15" height="24.19" fill="#911C70"/>
<rect x="1748.05" y="102.26" width="16.15" height="24.19" fill="#911C70"/>
<rect x="1764.20" y="102.26" width="16.15" height="24.19" fill="#911C70"/>
<rect x="1780.35" y="102.26" width="16.15" height="24.19" fill="#911C70"/>
<rect x="181.50" y="126.45" width="16.15" height="24.19" fill="#EEEAF2"/>
<rect x="197.65" y="126.45" width="16.15" height="24.19" fill="#EEEAF2"/>
<rect x="213.80" y="126.45" width="16.15" height="24.19" fill="#EEEAF2"/>
<rect x="229.95" y="126.45" width="16.15" height="24.19" fill="#EEEAF2"/>
<rect x="246.10" y="126.45" width="16.15" height="24.19" fill="#EEEAF2"/>
<rect x="262.25" y="126.45" width="16.15" height="24.19" fill="#EEEAF2"/>
<rect x="278.40" y="126.45" width="16.15" height="24.19" fill="#F5540A"/>
<rect x="294.55" y="126.45" width="16.15" height="24.19" fill="#F5540A"/>
<rect x="310.70" y="126.45" width="16.15" height="24.19" fill="#D1AA2D"/>
<rect x="326.85" y="126.45" width="16.15" height="24.19" fill="#D1AA2D"/>
<rect x="343.00" y="126.45" width="16.15" height="24.19" fill="#D1AA2D"/>
<rect x="359.15" y="126.45" width="16.15" height="24.19" fill="#D1AA2D"/>
<rect x="375.30" y="126.45" width="16.15" height="24.19" fill="#D1AA2D"/>
<rect x="391.45" y="126.45" width="16.15" height="24.19" fill="#D1AA2D"/>
<rect x="407.60" y="126.45" width="16.15" height="24.19" fill="#D1AA2D"/>
<rect x="423.75" y="126.45" width="16.15" height="24.19" fill="#D1AA2D"/>
<rect x="439.90" y="126.45" width="16.15" height="24.19" fill="#D1AA2D"/>
<rect x="456.05" y="126.45" width="16.15" height="24.19" fill="#D1AA2D"/>
<rect x="472.20" y="126.45" width="16.15" height="24.19" fill="#D1AA2D"/>
<rect x="488.35" y="126.45" width="16.15" height="24.19" fill="#D1AA2D"/>
<rect x="504.50" y="126.45" width="16.15" height="24.19" fill="#D1AA2D"/>
<rect x="520.65" y="126.45" width="16.15" height="24.19" fill="#D1AA2D"/>
<rect x="536.80" y="126.45" width="16.15" height="24.19" fill="#D1AA2D"/>
<rect x="552.95" y="126.45" width="16.15" height="24.19" fill="#D1AA2D"/>
<rect x="569.10" y="126.45" width="16.15" height="24.19" fill="#D1AA2D"/>
<rect x="585.25" y="126.45" width="16.15" height="24.19" fill="#D1AA2D"/>
<rect x="601.40" y="126.45" width="16.15" height="24.19" fill="#D1AA2D"/>
<rect x="617.55" y="126.45" width="16.15" height="24.19" fill="#D1AA2D"/>
<rect x="633.70" y="126.45" width="16.15" height="24.19" fill="#D1AA2D"/>
<rect x="649.85" y="126.45" width="16.15" height="24.19" fill="#D1AA2D"/>
<rect x="666.00" y="126.45" width="16.15" height="24.19" fill="#D1AA2D"/>
<rect x="682.15" y="126.45" width="16.15" height="24.19" fill="#D1AA2D"/>
<rect x="698.30" y="126.45" width="16.15" height="24.19" fill="#D1AA2D"/>
<rect x="714.45" y="126.45" width="16.15" height="24.19" fill="#D1AA2D"/>
<rect x="730.60" y="126.45" width="16.15" height="24.19" fill="#D1AA2D"/>
<rect x="746.75" y="126.45" width="16.15" height="24.19" fill="#D1AA2D"/>
<rect x="762.90" y="126.45" width="16.15" height="24.19" fill="#D1AA2D"/>
<rect x="779.05" y="126.45" width="16.15" height="24.19" fill="#D1AA2D"/>
<rect x="795.20" y="126.45" width="16.15" height="24.19" fill="#D1AA2D"/>
<rect x="811.35" y="126.45" width="16.15" height="24.19" fill="#D1AA2D"/>
<rect x="827.50" y="126.45" width="16.15" height="24.19" fill="#D1AA2D"/>
<rect x="843.65" y="126.45" width="16.15" height="24.19" fill="#D1AA2D"/>
<rect x="859.80" y="126.45" width="16.15" height="24.19" fill="#D1AA2D"/>
<rect x="875.95" y="126.45" width="16.15" height="24.19" fill="#D1AA2D"/>
<rect x="892.10" y="126.45" width="16.15" height="24.19" fill="#D1AA2D"/>
<rect x="908.25" y="126.45" width="16.15" height="24.19" fill="#D1AA2D"/>
<rect x="924.40" y="126.45" width="16.15" height="24.19" fill="#D1AA2D"/>
<rect x="940.55" y="126.45" width="16.15" height="24.19" fill="#D1AA2D"/>
<rect x="956.70" y="126.45" width="16.15" height="24.19" fill="#D1AA2D"/>
<rect x="972.85" y="126.45" width="16.15" height="24.19" fill="#D1AA2D"/>
<rect x="989.00" y="126.45" width="16.15" height="24.19" fill="#F5540A"/>
<rect x="1005.15" y="126.45" width="16.15" height="24.19" fill="#F5540A"/>
<rect x="1021.30" y="126.45" width="16.15" height="24.19" fill="#F5540A"/>
<rect x="1037.45" y="126.45" width="16.15" height="24.19" fill="#F5540A"/>
<rect x="1053.60" y="126.45" width="16.15" height="24.19" fill="#F5540A"/>
<rect x="1069.75" y="126.45" width="16.15" height="24.19" fill="#F5540A"/>
<rect x="1085.90" y="126.45" width="16.15" height="24.19" fill="#F5540A"/>
<rect x="1102.05" y="126.45" width="16.15" height="24.19" fill="#F5540A"/>
<rect x="1118.20" y="126.45" width="16.15" height="24.19" fill="#F5540A"/>
<rect x="1134.35" y="126.45" width="16.15" height="24.19" fill="#F5540A"/>
<rect x="1150.50" y="126.45" width="16.15" height="24.19" fill="#F5540A"/>
<rect x="1166.65" y="126.45" width="16.15" height="24.19" fill="#F5540A"/>
<rect x="1182.80" y="126.45" width="16.15" height="24.19" fill="#F5540A"/>
<rect x="1198.95" y="126.45" width="16.15" height="24.19" fill="#EEEAF2"/>
<rect x="1215.10" y="126.45" width="16.15" height="24.19" fill="#D1AA2D"/>
<rect x="1231.25" y="126.45" width="16.15" height="24.19" fill="#F5540A"/>
<rect x="1247.40" y="126.45" width="16.15" height="24.19" fill="#F5540A"/>
<rect x="1263.55" y="126.45" width="16.15" height="24.19" fill="#F5540A"/>
<rect x="1279.70" y="126.45" width="16.15" height="24.19" fill="#F5540A"/>
<rect x="1295.85" y="126.45" width="16.15" height="24.19" fill="#F5540A"/>
<rect x="1312.00" y="126.45" width="16.15" height="24.19" fill="#F5540A"/>
<rect x="1328.15" y="126.45" width="16.15" height="24.19" fill="#F5540A"/>
<rect x="1344.30" y="126.45" width="16.15" height="24.19" fill="#F5540A"/>
<rect x="1360.45" y="126.45" width="16.15" height="24.19" fill="#EEEAF2"/>
<rect x="1376.60" y="126.45" width="16.15" height="24.19" fill="#EEEAF2"/>
<rect x="1392.75" y="126.45" width="16.15" height="24.19" fill="#EEEAF2"/>
<rect x="1408.90" y="126.45" width="16.15" height="24.19" fill="#D1AA2D"/>
<rect x="1425.05" y="126.45" width="16.15" height="24.19" fill="#D1AA2D"/>
<rect x="1441.20" y="126.45" width="16.15" height="24.19" fill="#D1AA2D"/>
<rect x="1457.35" y="126.45" width="16.15" height="24.19" fill="#D1AA2D"/>
<rect x="1473.50" y="126.45" width="16.15" height="24.19" fill="#D1AA2D"/>
<rect x="1489.65" y="126.45" width="16.15" height="24.19" fill="#D1AA2D"/>
<rect x="1505.80" y="126.45" width="16.15" height="24.19" fill="#D1AA2D"/>
<rect x="1521.95" y="126.45" width="16.15" height="24.19" fill="#D1AA2D"/>
<rect x="1538.10" y="126.45" width="16.15" height="24.19" fill="#D1AA2D"/>
<rect x="1554.25" y="126.45" width="16.15" height="24.19" fill="#F5540A"/>
<rect x="1570.40" y="126.45" width="16.15" height="24.19" fill="#F5540A"/>
<rect x="1586.55" y="126.45" width="16.15" height="24.19" fill="#F5540A"/>
<rect x="1602.70" y="126.45" width="16.15" height="24.19" fill="#F5540A"/>
<rect x="1618.85" y="126.45" width="16.15" height="24.19" fill="#F5540A"/>
<rect x="1635.00" y="126.45" width="16.15" height="24.19" fill="#F5540A"/>
<rect x="1651.15" y="126.45" width="16.15" height="24.19" fill="#D1AA2D"/>
<rect x="1667.30" y="126.45" width="16.15" height="24.19" fill="#F5540A"/>
<rect x="1683.45" y="126.45" width="16.15" height="24.19" fill="#F5540A"/>
<rect x="1699.60" y="126.45" width="16.15" height="24.19" fill="#F5540A"/>
<rect x="1715.75" y="126.45" width="16.15" height="24.19" fill="#F5540A"/>
<rect x="1731.90" y="126.45" width="16.15" height="24.19" fill="#F5540A"/>
<rect x="1748.05" y="126.45" width="16.15" height="24.19" fill="#F5540A"/>
<rect x="1764.20" y="126.45" width="16.15" height="24.19" fill="#F5540A"/>
<rect x="1780.35" y="126.45" width="16.15" height="24.19" fill="#F5540A"/>
<rect x="181.50" y="150.64" width="16.15" height="24.19" fill="#77CBA5"/>
<rect x="197.65" y="150.64" width="16.15" height="24.19" fill="#77CBA5"/>
<rect x="213.80" y="150.64" width="16.15" height="24.19" fill="#77CBA5"/>
<rect x="229.95" y="150.64" width="16.15" height="24.19" fill="#77CBA5"/>
<rect x="246.10" y="150.64" width="16.15" height="24.19" fill="#77CBA5"/>
<rect x="262.25" y="150.64" width="16.15" height="24.19" fill="#77CBA5"/>
<rect x="278.40" y="150.64" width="16.15" height="24.19" fill="#77CBA5"/>
<rect x="294.55" y="150.64" width="16.15" height="24.19" fill="#77CBA5"/>
<rect x="310.70" y="150.64" width="16.15" height="24.19" fill="#77CBA5"/>
<rect x="326.85" y="150.64" width="16.15" height="24.19" fill="#77CBA5"/>
<rect x="343.00" y="150.64" width="16.15" height="24.19" fill="#77CBA5"/>
<rect x="359.15" y="150.64" width="16.15" height="24.19" fill="#77CBA5"/>
<rect x="375.30" y="150.64" width="16.15" height="24.19" fill="#77CBA5"/>
<rect x="391.45" y="150.64" width="16.15" height="24.19" fill="#77CBA5"/>
<rect x="407.60" y="150.64" width="16.15" height="24.19" fill="#77CBA5"/>
<rect x="423.75" y="150.64" width="16.15" height="24.19" fill="#77CBA5"/>
<rect x="439.90" y="150.64" width="16.15" height="24.19" fill="#77CBA5"/>
<rect x="456.05" y="150.64" width="16.15" height="24.19" fill="#77CBA5"/>
<rect x="472.20" y="150.64" width="16.15" height="24.19" fill="#77CBA5"/>
<rect x="488.35" y="150.64" width="16.15" height="24.19" fill="#77CBA5"/>
<rect x="504.50" y="150.64" width="16.15" height="24.19" fill="#77CBA5"/>
<rect x="520.65" y="150.64" width="16.15" height="24.19" fill="#77CBA5"/>
<rect x="536.80" y="150.64" width="16.15" height="24.19" fill="#77CBA5"/>
<rect x="552.95" y="150.64" width="16.15" height="24.19" fill="#77CBA5"/>
<rect x="569.10" y="150.64" width="16.15" height="24.19" fill="#77CBA5"/>
<rect x="585.25" y="150.64" width="16.15" height="24.19" fill="#77CBA5"/>
<rect x="601.40" y="150.64" width="16.15" height="24.19" fill="#77CBA5"/>
<rect x="617.55" y="150.64" width="16.15" height="24.19" fill="#77CBA5"/>
<rect x="633.70" y="150.64" width="16.15" height="24.19" fill="#77CBA5"/>
<rect x="649.85" y="150.64" width="16.15" height="24.19" fill="#77CBA5"/>
<rect x="666.00" y="150.64" width="16.15" height="24.19" fill="#77CBA5"/>
<rect x="682.15" y="150.64" width="16.15" height="24.19" fill="#77CBA5"/>
<rect x="698.30" y="150.64" width="16.15" height="24.19" fill="#77CBA5"/>
<rect x="714.45" y="150.64" width="16.15" height="24.19" fill="#77CBA5"/>
<rect x="730.60" y="150.64" width="16.15" height="24.19" fill="#77CBA5"/>
<rect x="746.75" y="150.64" width="16.15" height="24.19" fill="#77CBA5"/>
<rect x="762.90" y="150.64" width="16.15" height="24.19" fill="#77CBA5"/>
<rect x="779.05" y="150.64" width="16.15" height="24.19" fill="#77CBA5"/>
<rect x="795.20" y="150.64" width="16.15" height="24.19" fill="#77CBA5"/>
<rect x="811.35" y="150.64" width="16.15" height="24.19" fill="#77CBA5"/>
<rect x="827.50" y="150.64" width="16.15" height="24.19" fill="#77CBA5"/>
<rect x="843.65" y="150.64" width="16.15" height="24.19" fill="#77CBA5"/>
<rect x="859.80" y="150.64" width="16.15" height="24.19" fill="#77CBA5"/>
<rect x="875.95" y="150.64" width="16.15" height="24.19" fill="#77CBA5"/>
<rect x="892.10" y="150.64" width="16.15" height="24.19" fill="#77CBA5"/>
<rect x="908.25" y="150.64" width="16.15" height="24.19" fill="#77CBA5"/>
<rect x="924.40" y="150.64" width="16.15" height="24.19" fill="#77CBA5"/>
<rect x="940.55" y="150.64" width="16.15" height="24.19" fill="#77CBA5"/>
<rect x="956.70" y="150.64" width="16.15" height="24.19" fill="#77CBA5"/>
<rect x="972.85" y="150.64" width="16.15" height="24.19" fill="#77CBA5"/>
<rect x="989.00" y="150.64" width="16.15" height="24.19" fill="#77CBA5"/>
<rect x="1005.15" y="150.64" width="16.15" height="24.19" fill="#77CBA5"/>
<rect x="1021.30" y="150.64" width="16.15" height="24.19" fill="#77CBA5"/>
<rect x="1037.45" y="150.64" width="16.15" height="24.19" fill="#77CBA5"/>
<rect x="1053.60" y="150.64" width="16.15" height="24.19" fill="#77CBA5"/>
<rect x="1069.75" y="150.64" width="16.15" height="24.19" fill="#77CBA5"/>
<rect x="1085.90" y="150.64" width="16.15" height="24.19" fill="#77CBA5"/>
<rect x="1102.05" y="150.64" width="16.15" height="24.19" fill="#77CBA5"/>
<rect x="1118.20" y="150.64" width="16.15" height="24.19" fill="#77CBA5"/>
<rect x="1134.35" y="150.64" width="16.15" height="24.19" fill="#77CBA5"/>
<rect x="1150.50" y="150.64" width="16.15" height="24.19" fill="#77CBA5"/>
<rect x="1166.65" y="150.64" width="16.15" height="24.19" fill="#77CBA5"/>
<rect x="1182.80" y="150.64" width="16.15" height="24.19" fill="#77CBA5"/>
<rect x="1198.95" y="150.64" width="16.15" height="24.19" fill="#FC0068"/>
<rect x="1215.10" y="150.64" width="16.15" height="24.19" fill="#FC0068"/>
<rect x="1231.25" y="150.64" width="16.15" height="24.19" fill="#FC0068"/>
<rect x="1247.40" y="150.64" width="16.15" height="24.19" fill="#FC0068"/>
<rect x="1263.55" y="150.64" width="16.15" height="24.19" fill="#FC0068"/>
<rect x="1279.70" y="150.64" width="16.15" height="24.19" fill="#FC0068"/>
<rect x="1295.85" y="150.64" width="16.15" height="24.19" fill="#FC0068"/>
<rect x="1312.00" y="150.64" width="16.15" height="24.19" fill="#FC0068"/>
<rect x="1328.15" y="150.64" width="16.15" height="24.19" fill="#FC0068"/>
<rect x="1344.30" y="150.64" width="16.15" height="24.19" fill="#FC0068"/>
<rect x="1360.45" y="150.64" width="16.15" height="24.19" fill="#00AEEF"/>
<rect x="1376.60" y="150.64" width="16.15" height="24.19" fill="#00AEEF"/>
<rect x="1392.75" y="150.64" width="16.15" height="24.19" fill="#00AEEF"/>
<rect x="1408.90" y="150.64" width="16.15" height="24.19" fill="#00AEEF"/>
<rect x="1425.05" y="150.64" width="16.15" height="24.19" fill="#00AEEF"/>
<rect x="1441.20" y="150.64" width="16.15" height="24.19" fill="#00AEEF"/>
<rect x="1457.35" y="150.64" width="16.15" height="24.19" fill="#00AEEF"/>
<rect x="1473.50" y="150.64" width="16.15" height="24.19" fill="#00AEEF"/>
<rect x="1489.65" y="150.64" width="16.15" height="24.19" fill="#00AEEF"/>
<rect x="1505.80" y="150.64" width="16.15" height="24.19" fill="#00AEEF"/>
<rect x="1521.95" y="150.64" width="16.15" height="24.19" fill="#00AEEF"/>
<rect x="1538.10" y="150.64" width="16.15" height="24.19" fill="#00AEEF"/>
<rect x="1554.25" y="150.64" width="16.15" height="24.19" fill="#00AEEF"/>
<rect x="1570.40" y="150.64" width="16.15" height="24.19" fill="#00AEEF"/>
<rect x="1586.55" y="150.64" width="16.15" height="24.19" fill="#00AEEF"/>
<rect x="1602.70" y="150.64" width="16.15" height="24.19" fill="#00AEEF"/>
<rect x="1618.85" y="150.64" width="16.15" height="24.19" fill="#00AEEF"/>
<rect x="1635.00" y="150.64" width="16.15" height="24.19" fill="#00AEEF"/>
<rect x="1651.15" y="150.64" width="16.15" height="24.19" fill="#00AEEF"/>
<rect x="1667.30" y="150.64" width="16.15" height="24.19" fill="#00AEEF"/>
<rect x="1683.45" y="150.64" width="16.15" height="24.19" fill="#00AEEF"/>
<rect x="1699.60" y="150.64" width="16.15" height="24.19" fill="#00AEEF"/>
<rect x="1715.75" y="150.64" width="16.15" height="24.19" fill="#00AEEF"/>
<rect x="1731.90" y="150.64" width="16.15" height="24.19" fill="#00AEEF"/>
<rect x="1748.05" y="150.64" width="16.15" height="24.19" fill="#00AEEF"/>
<rect x="1764.20" y="150.64" width="16.15" height="24.19" fill="#00AEEF"/>
<rect x="1780.35" y="150.64" width="16.15" height="24.19" fill="#00AEEF"/>
<rect x="181.50" y="174.83" width="16.15" height="24.19" fill="#77CBA5"/>
<rect x="197.65" y="174.83" width="16.15" height="24.19" fill="#77CBA5"/>
<rect x="213.80" y="174.83" width="16.15" height="24.19" fill="#77CBA5"/>
<rect x="229.95" y="174.83" width="16.15" height="24.19" fill="#77CBA5"/>
<rect x="246.10" y="174.83" width="16.15" height="24.19" fill="#77CBA5"/>
<rect x="262.25" y="174.83" width="16.15" height="24.19" fill="#77CBA5"/>
<rect x="278.40" y="174.83" width="16.15" height="24.19" fill="#FF00EA"/>
<rect x="294.55" y="174.83" width="16.15" height="24.19" fill="#FF00EA"/>
<rect x="310.70" y="174.83" width="16.15" height="24.19" fill="#FF00EA"/>
<rect x="326.85" y="174.83" width="16.15" height="24.19" fill="#FF00EA"/>
<rect x="343.00" y="174.83" width="16.15" height="24.19" fill="#FF00EA"/>
<rect x="359.15" y="174.83" width="16.15" height="24.19" fill="#FF00EA"/>
<rect x="375.30" y="174.83" width="16.15" height="24.19" fill="#FF00EA"/>
<rect x="391.45" y="174.83" width="16.15" height="24.19" fill="#FF00EA"/>
<rect x="407.60" y="174.83" width="16.15" height="24.19" fill="#FF00EA"/>
<rect x="423.75" y="174.83" width="16.15" height="24.19" fill="#FF00EA"/>
<rect x="439.90" y="174.83" width="16.15" height="24.19" fill="#FF00EA"/>
<rect x="456.05" y="174.83" width="16.15" height="24.19" fill="#FF00EA"/>
<rect x="472.20" y="174.83" width="16.15" height="24.19" fill="#F4FF00"/>
<rect x="488.35" y="174.83" width="16.15" height="24.19" fill="#F4FF00"/>
<rect x="504.50" y="174.83" width="16.15" height="24.19" fill="#F4FF00"/>
<rect x="520.65" y="174.83" width="16.15" height="24.19" fill="#F4FF00"/>
<rect x="536.80" y="174.83" width="16.15" height="24.19" fill="#F4FF00"/>
<rect x="552.95" y="174.83" width="16.15" height="24.19" fill="#F4FF00"/>
<rect x="569.10" y="174.83" width="16.15" height="24.19" fill="#F4FF00"/>
<rect x="585.25" y="174.83" width="16.15" height="24.19" fill="#F4FF00"/>
<rect x="601.40" y="174.83" width="16.15" height="24.19" fill="#F4FF00"/>
<rect x="617.55" y="174.83" width="16.15" height="24.19" fill="#F4FF00"/>
<rect x="633.70" y="174.83" width="16.15" height="24.19" fill="#F4FF00"/>
<rect x="649.85" y="174.83" width="16.15" height="24.19" fill="#F4FF00"/>
<rect x="666.00" y="174.83" width="16.15" height="24.19" fill="#F4FF00"/>
<rect x="682.15" y="174.83" width="16.15" height="24.19" fill="#F4FF00"/>
<rect x="698.30" y="174.83" width="16.15" height="24.19" fill="#F4FF00"/>
<rect x="714.45" y="174.83" width="16.15" height="24.19" fill="#F4FF00"/>
<rect x="730.60" y="174.83" width="16.15" height="24.19" fill="#F4FF00"/>
<rect x="746.75" y="174.83" width="16.15" height="24.19" fill="#F4FF00"/>
<rect x="762.90" y="174.83" width="16.15" height="24.19" fill="#F4FF00"/>
<rect x="779.05" y="174.83" width="16.15" height="24.19" fill="#F4FF00"/>
<rect x="795.20" y="174.83" width="16.15" height="24.19" fill="#F4FF00"/>
<rect x="811.35" y="174.83" width="16.15" height="24.19" fill="#F4FF00"/>
<rect x="827.50" y="174.83" width="16.15" height="24.19" fill="#F4FF00"/>
<rect x="843.65" y="174.83" width="16.15" height="24.19" fill="#F4FF00"/>
<rect x="859.80" y="174.83" width="16.15" height="24.19" fill="#F4FF00"/>
<rect x="875.95" y="174.83" width="16.15" height="24.19" fill="#F4FF00"/>
<rect x="892.10" y="174.83" width="16.15" height="24.19" fill="#F4FF00"/>
<rect x="908.25" y="174.83" width="16.15" height="24.19" fill="#F4FF00"/>
<rect x="924.40" y="174.83" width="16.15" height="24.19" fill="#F4FF00"/>
<rect x="940.55" y="174.83" width="16.15" height="24.19" fill="#F4FF00"/>
<rect x="956.70" y="174.83" width="16.15" height="24.19" fill="#F4FF00"/>
<rect x="972.85" y="174.83" width="16.15" height="24.19" fill="#F4FF00"/>
<rect x="989.00" y="174.83" width="16.15" height="24.19" fill="#B0F000"/>
<rect x="1005.15" y="174.83" width="16.15" height="24.19" fill="#B0F000"/>
<rect x="1021.30" y="174.83" width="16.15" height="24.19" fill="#B0F000"/>
<rect x="1037.45" y="174.83" width="16.15" height="24.19" fill="#B0F000"/>
<rect x="1053.60" y="174.83" width="16.15" height="24.19" fill="#B0F000"/>
<rect x="1069.75" y="174.83" width="16.15" height="24.19" fill="#B0F000"/>
<rect x="1085.90" y="174.83" width="16.15" height="24.19" fill="#B0F000"/>
<rect x="1102.05" y="174.83" width="16.15" height="24.19" fill="#B0F000"/>
<rect x="1118.20" y="174.83" width="16.15" height="24.19" fill="#B0F000"/>
<rect x="1134.35" y="174.83" width="16.15" height="24.19" fill="#B0F000"/>
<rect x="1150.50" y="174.83" width="16.15" height="24.19" fill="#B0F000"/>
<rect x="1166.65" y="174.83" width="16.15" height="24.19" fill="#B0F000"/>
<rect x="1182.80" y="174.83" width="16.15" height="24.19" fill="#B0F000"/>
<rect x="1198.95" y="174.83" width="16.15" height="24.19" fill="#77CBA5"/>
<rect x="1215.10" y="174.83" width="16.15" height="24.19" fill="#FF00EA"/>
<rect x="1231.25" y="174.83" width="16.15" height="24.19" fill="#B0F000"/>
<rect x="1247.40" y="174.83" width="16.15" height="24.19" fill="#B0F000"/>
<rect x="1263.55" y="174.83" width="16.15" height="24.19" fill="#B0F000"/>
<rect x="1279.70" y="174.83" width="16.15" height="24.19" fill="#B0F000"/>
<rect x="1295.85" y="174.83" width="16.15" height="24.19" fill="#B0F000"/>
<rect x="1312.00" y="174.83" width="16.15" height="24.19" fill="#B0F000"/>
<rect x="1328.15" y="174.83" width="16.15" height="24.19" fill="#B0F000"/>
<rect x="1344.30" y="174.83" width="16.15" height="24.19" fill="#B0F000"/>
<rect x="1360.45" y="174.83" width="16.15" height="24.19" fill="#00AEEF"/>
<rect x="1376.60" y="174.83" width="16.15" height="24.19" fill="#00AEEF"/>
<rect x="1392.75" y="174.83" width="16.15" height="24.19" fill="#00AEEF"/>
<rect x="1408.90" y="174.83" width="16.15" height="24.19" fill="#00AEEF"/>
<rect x="1425.05" y="174.83" width="16.15" height="24.19" fill="#00AEEF"/>
<rect x="1441.20" y="174.83" width="16.15" height="24.19" fill="#00AEEF"/>
<rect x="1457.35" y="174.83" width="16.15" height="24.19" fill="#00AEEF"/>
<rect x="1473.50" y="174.83" width="16.15" height="24.19" fill="#00AEEF"/>
<rect x="1489.65" y="174.83" width="16.15" height="24.19" fill="#00AEEF"/>
<rect x="1505.80" y="174.83" width="16.15" height="24.19" fill="#00AEEF"/>
<rect x="1521.95" y="174.83" width="16.15" height="24.19" fill="#00AEEF"/>
<rect x="1538.10" y="174.83" width="16.15" height="24.19" fill="#00AEEF"/>
<rect x="1554.25" y="174.83" width="16.15" height="24.19" fill="#00AEEF"/>
<rect x="1570.40" y="174.83" width="16.15" height="24.19" fill="#00AEEF"/>
<rect x="1586.55" y="174.83" width="16.15" height="24.19" fill="#00AEEF"/>
<rect x="1602.70" y="174.83" width="16.15" height="24.19" fill="#00AEEF"/>
<rect x="1618.85" y="174.83" width="16.15" height="24.19" fill="#00AEEF"/>
<rect x="1635.00" y="174.83" width="16.15" height="24.19" fill="#00AEEF"/>
<rect x="1651.15" y="174.83" width="16.15" height="24.19" fill="#00AEEF"/>
<rect x="1667.30" y="174.83" width="16.15" height="24.19" fill="#00AEEF"/>
<rect x="1683.45" y="174.83" width="16.15" height="24.19" fill="#00AEEF"/>
<rect x="1699.60" y="174.83" width="16.15" height="24.19" fill="#00AEEF"/>
<rect x="1715.75" y="174.83" width="16.15" height="24.19" fill="#00AEEF"/>
<rect x="1731.90" y="174.83" width="16.15" height="24.19" fill="#00AEEF"/>
<rect x="1748.05" y="174.83" width="16.15" height="24.19" fill="#00AEEF"/>
<rect x="1764.20" y="174.83" width="16.15" height="24.19" fill="#00AEEF"/>
<rect x="1780.35" y="174.83" width="16.15" height="24.19" fill="#00AEEF"/>
</g>
<g stroke="#fff" stroke-width="0.85">
<rect x="181.50" y="223.50" width="16.15" height="24.12" fill="#F8F6F9"/>
<rect x="197.65" y="223.50" width="16.15" height="24.12" fill="#F8F6F9"/>
<rect x="213.80" y="223.50" width="16.15" height="24.12" fill="#F96A00"/>
<rect x="229.95" y="223.50" width="16.15" height="24.12" fill="#FBB829"/>
<rect x="246.10" y="223.50" width="16.15" height="24.12" fill="#F8F6F9"/>
<rect x="262.25" y="223.50" width="16.15" height="24.12" fill="#F8F6F9"/>
<rect x="278.40" y="223.50" width="16.15" height="24.12" fill="#F8F6F9"/>
<rect x="294.55" y="223.50" width="16.15" height="24.12" fill="#F8F6F9"/>
<rect x="310.70" y="223.50" width="16.15" height="24.12" fill="#F8F6F9"/>
<rect x="326.85" y="223.50" width="16.15" height="24.12" fill="#F8F6F9"/>
<rect x="343.00" y="223.50" width="16.15" height="24.12" fill="#F8F6F9"/>
<rect x="359.15" y="223.50" width="16.15" height="24.12" fill="#F8F6F9"/>
<rect x="375.30" y="223.50" width="16.15" height="24.12" fill="#F8F6F9"/>
<rect x="391.45" y="223.50" width="16.15" height="24.12" fill="#F8F6F9"/>
<rect x="407.60" y="223.50" width="16.15" height="24.12" fill="#F8F6F9"/>
<rect x="423.75" y="223.50" width="16.15" height="24.12" fill="#F8F6F9"/>
<rect x="439.90" y="223.50" width="16.15" height="24.12" fill="#F8F6F9"/>
<rect x="456.05" y="223.50" width="16.15" height="24.12" fill="#E03616"/>
<rect x="472.20" y="223.50" width="16.15" height="24.12" fill="#F8F6F9"/>
<rect x="488.35" y="223.50" width="16.15" height="24.12" fill="#F8F6F9"/>
<rect x="504.50" y="223.50" width="16.15" height="24.12" fill="#F8F6F9"/>
<rect x="520.65" y="223.50" width="16.15" height="24.12" fill="#F8F6F9"/>
<rect x="536.80" y="223.50" width="16.15" height="24.12" fill="#F8F6F9"/>
<rect x="552.95" y="223.50" width="16.15" height="24.12" fill="#F8F6F9"/>
<rect x="569.10" y="223.50" width="16.15" height="24.12" fill="#F8F6F9"/>
<rect x="585.25" y="223.50" width="16.15" height="24.12" fill="#F8F6F9"/>
<rect x="601.40" y="223.50" width="16.15" height="24.12" fill="#F8F6F9"/>
<rect x="617.55" y="223.50" width="16.15" height="24.12" fill="#F8F6F9"/>
<rect x="633.70" y="223.50" width="16.15" height="24.12" fill="#FBB829"/>
<rect x="649.85" y="223.50" width="16.15" height="24.12" fill="#F8F6F9"/>
<rect x="666.00" y="223.50" width="16.15" height="24.12" fill="#F8F6F9"/>
<rect x="682.15" y="223.50" width="16.15" height="24.12" fill="#F8F6F9"/>
<rect x="698.30" y="223.50" width="16.15" height="24.12" fill="#F8F6F9"/>
<rect x="714.45" y="223.50" width="16.15" height="24.12" fill="#F8F6F9"/>
<rect x="730.60" y="223.50" width="16.15" height="24.12" fill="#F8F6F9"/>
<rect x="746.75" y="223.50" width="16.15" height="24.12" fill="#F8F6F9"/>
<rect x="762.90" y="223.50" width="16.15" height="24.12" fill="#F8F6F9"/>
<rect x="779.05" y="223.50" width="16.15" height="24.12" fill="#F8F6F9"/>
<rect x="795.20" y="223.50" width="16.15" height="24.12" fill="#F8F6F9"/>
<rect x="811.35" y="223.50" width="16.15" height="24.12" fill="#F8F6F9"/>
<rect x="827.50" y="223.50" width="16.15" height="24.12" fill="#F8F6F9"/>
<rect x="843.65" y="223.50" width="16.15" height="24.12" fill="#F8F6F9"/>
<rect x="859.80" y="223.50" width="16.15" height="24.12" fill="#E03616"/>
<rect x="875.95" y="223.50" width="16.15" height="24.12" fill="#FBB829"/>
<rect x="892.10" y="223.50" width="16.15" height="24.12" fill="#F8F6F9"/>
<rect x="908.25" y="223.50" width="16.15" height="24.12" fill="#FBB829"/>
<rect x="924.40" y="223.50" width="16.15" height="24.12" fill="#FBB829"/>
<rect x="940.55" y="223.50" width="16.15" height="24.12" fill="#F8F6F9"/>
<rect x="956.70" y="223.50" width="16.15" height="24.12" fill="#FBB829"/>
<rect x="972.85" y="223.50" width="16.15" height="24.12" fill="#F8F6F9"/>
<rect x="989.00" y="223.50" width="16.15" height="24.12" fill="#F8F6F9"/>
<rect x="1005.15" y="223.50" width="16.15" height="24.12" fill="#FBB829"/>
<rect x="1021.30" y="223.50" width="16.15" height="24.12" fill="#F8F6F9"/>
<rect x="1037.45" y="223.50" width="16.15" height="24.12" fill="#F8F6F9"/>
<rect x="1053.60" y="223.50" width="16.15" height="24.12" fill="#F8F6F9"/>
<rect x="1069.75" y="223.50" width="16.15" height="24.12" fill="#F8F6F9"/>
<rect x="1085.90" y="223.50" width="16.15" height="24.12" fill="#F8F6F9"/>
<rect x="1102.05" y="223.50" width="16.15" height="24.12" fill="#F8F6F9"/>
<rect x="1118.20" y="223.50" width="16.15" height="24.12" fill="#F8F6F9"/>
<rect x="1134.35" y="223.50" width="16.15" height="24.12" fill="#F8F6F9"/>
<rect x="1150.50" y="223.50" width="16.15" height="24.12" fill="#FBB829"/>
<rect x="1166.65" y="223.50" width="16.15" height="24.12" fill="#FBB829"/>
<rect x="1182.80" y="223.50" width="16.15" height="24.12" fill="#F8F6F9"/>
<rect x="1198.95" y="223.50" width="16.15" height="24.12" fill="#F8F6F9"/>
<rect x="1215.10" y="223.50" width="16.15" height="24.12" fill="#F8F6F9"/>
<rect x="1231.25" y="223.50" width="16.15" height="24.12" fill="#F8F6F9"/>
<rect x="1247.40" y="223.50" width="16.15" height="24.12" fill="#F8F6F9"/>
<rect x="1263.55" y="223.50" width="16.15" height="24.12" fill="#F8F6F9"/>
<rect x="1279.70" y="223.50" width="16.15" height="24.12" fill="#F8F6F9"/>
<rect x="1295.85" y="223.50" width="16.15" height="24.12" fill="#F8F6F9"/>
<rect x="1312.00" y="223.50" width="16.15" height="24.12" fill="#F8F6F9"/>
<rect x="1328.15" y="223.50" width="16.15" height="24.12" fill="#F8F6F9"/>
<rect x="1344.30" y="223.50" width="16.15" height="24.12" fill="#F8F6F9"/>
<rect x="1360.45" y="223.50" width="16.15" height="24.12" fill="#F8F6F9"/>
<rect x="1376.60" y="223.50" width="16.15" height="24.12" fill="#FBB829"/>
<rect x="1392.75" y="223.50" width="16.15" height="24.12" fill="#FBB829"/>
<rect x="1408.90" y="223.50" width="16.15" height="24.12" fill="#E03616"/>
<rect x="1425.05" y="223.50" width="16.15" height="24.12" fill="#FBB829"/>
<rect x="1441.20" y="223.50" width="16.15" height="24.12" fill="#FBB829"/>
<rect x="1457.35" y="223.50" width="16.15" height="24.12" fill="#F8F6F9"/>
<rect x="1473.50" y="223.50" width="16.15" height="24.12" fill="#FBB829"/>
<rect x="1489.65" y="223.50" width="16.15" height="24.12" fill="#FBB829"/>
<rect x="1505.80" y="223.50" width="16.15" height="24.12" fill="#F8F6F9"/>
<rect x="1521.95" y="223.50" width="16.15" height="24.12" fill="#E03616"/>
<rect x="1538.10" y="223.50" width="16.15" height="24.12" fill="#F8F6F9"/>
<rect x="1554.25" y="223.50" width="16.15" height="24.12" fill="#F8F6F9"/>
<rect x="1570.40" y="223.50" width="16.15" height="24.12" fill="#F96A00"/>
<rect x="1586.55" y="223.50" width="16.15" height="24.12" fill="#FBB829"/>
<rect x="1602.70" y="223.50" width="16.15" height="24.12" fill="#F8F6F9"/>
<rect x="1618.85" y="223.50" width="16.15" height="24.12" fill="#FBB829"/>
<rect x="1635.00" y="223.50" width="16.15" height="24.12" fill="#F8F6F9"/>
<rect x="1651.15" y="223.50" width="16.15" height="24.12" fill="#FBB829"/>
<rect x="1667.30" y="223.50" width="16.15" height="24.12" fill="#F96A00"/>
<rect x="1683.45" y="223.50" width="16.15" height="24.12" fill="#FBB829"/>
<rect x="1699.60" y="223.50" width="16.15" height="24.12" fill="#F8F6F9"/>
<rect x="1715.75" y="223.50" width="16.15" height="24.12" fill="#F8F6F9"/>
<rect x="1731.90" y="223.50" width="16.15" height="24.12" fill="#F8F6F9"/>
<rect x="1748.05" y="223.50" width="16.15" height="24.12" fill="#FBB829"/>
<rect x="1764.20" y="223.50" width="16.15" height="24.12" fill="#F8F6F9"/>
<rect x="1780.35" y="223.50" width="16.15" height="24.12" fill="#F8F6F9"/>
<rect x="181.50" y="247.62" width="16.15" height="24.12" fill="#F8F6F9"/>
<rect x="197.65" y="247.62" width="16.15" height="24.12" fill="#F8F6F9"/>
<rect x="213.80" y="247.62" width="16.15" height="24.12" fill="#77CBA5"/>
<rect x="229.95" y="247.62" width="16.15" height="24.12" fill="#77CBA5"/>
<rect x="246.10" y="247.62" width="16.15" height="24.12" fill="#F8F6F9"/>
<rect x="262.25" y="247.62" width="16.15" height="24.12" fill="#F8F6F9"/>
<rect x="278.40" y="247.62" width="16.15" height="24.12" fill="#F8F6F9"/>
<rect x="294.55" y="247.62" width="16.15" height="24.12" fill="#F8F6F9"/>
<rect x="310.70" y="247.62" width="16.15" height="24.12" fill="#F8F6F9"/>
<rect x="326.85" y="247.62" width="16.15" height="24.12" fill="#F8F6F9"/>
<rect x="343.00" y="247.62" width="16.15" height="24.12" fill="#F8F6F9"/>
<rect x="359.15" y="247.62" width="16.15" height="24.12" fill="#F8F6F9"/>
<rect x="375.30" y="247.62" width="16.15" height="24.12" fill="#F8F6F9"/>
<rect x="391.45" y="247.62" width="16.15" height="24.12" fill="#F8F6F9"/>
<rect x="407.60" y="247.62" width="16.15" height="24.12" fill="#F8F6F9"/>
<rect x="423.75" y="247.62" width="16.15" height="24.12" fill="#F8F6F9"/>
<rect x="439.90" y="247.62" width="16.15" height="24.12" fill="#F8F6F9"/>
<rect x="456.05" y="247.62" width="16.15" height="24.12" fill="#77CBA5"/>
<rect x="472.20" y="247.62" width="16.15" height="24.12" fill="#F8F6F9"/>
<rect x="488.35" y="247.62" width="16.15" height="24.12" fill="#F8F6F9"/>
<rect x="504.50" y="247.62" width="16.15" height="24.12" fill="#F8F6F9"/>
<rect x="520.65" y="247.62" width="16.15" height="24.12" fill="#F8F6F9"/>
<rect x="536.80" y="247.62" width="16.15" height="24.12" fill="#F8F6F9"/>
<rect x="552.95" y="247.62" width="16.15" height="24.12" fill="#F8F6F9"/>
<rect x="569.10" y="247.62" width="16.15" height="24.12" fill="#F8F6F9"/>
<rect x="585.25" y="247.62" width="16.15" height="24.12" fill="#F8F6F9"/>
<rect x="601.40" y="247.62" width="16.15" height="24.12" fill="#F8F6F9"/>
<rect x="617.55" y="247.62" width="16.15" height="24.12" fill="#F8F6F9"/>
<rect x="633.70" y="247.62" width="16.15" height="24.12" fill="#77CBA5"/>
<rect x="649.85" y="247.62" width="16.15" height="24.12" fill="#F8F6F9"/>
<rect x="666.00" y="247.62" width="16.15" height="24.12" fill="#F8F6F9"/>
<rect x="682.15" y="247.62" width="16.15" height="24.12" fill="#F8F6F9"/>
<rect x="698.30" y="247.62" width="16.15" height="24.12" fill="#F8F6F9"/>
<rect x="714.45" y="247.62" width="16.15" height="24.12" fill="#F8F6F9"/>
<rect x="730.60" y="247.62" width="16.15" height="24.12" fill="#F8F6F9"/>
<rect x="746.75" y="247.62" width="16.15" height="24.12" fill="#F8F6F9"/>
<rect x="762.90" y="247.62" width="16.15" height="24.12" fill="#F8F6F9"/>
<rect x="779.05" y="247.62" width="16.15" height="24.12" fill="#F8F6F9"/>
<rect x="795.20" y="247.62" width="16.15" height="24.12" fill="#F8F6F9"/>
<rect x="811.35" y="247.62" width="16.15" height="24.12" fill="#F8F6F9"/>
<rect x="827.50" y="247.62" width="16.15" height="24.12" fill="#F8F6F9"/>
<rect x="843.65" y="247.62" width="16.15" height="24.12" fill="#F8F6F9"/>
<rect x="859.80" y="247.62" width="16.15" height="24.12" fill="#77CBA5"/>
<rect x="875.95" y="247.62" width="16.15" height="24.12" fill="#77CBA5"/>
<rect x="892.10" y="247.62" width="16.15" height="24.12" fill="#F8F6F9"/>
<rect x="908.25" y="247.62" width="16.15" height="24.12" fill="#77CBA5"/>
<rect x="924.40" y="247.62" width="16.15" height="24.12" fill="#77CBA5"/>
<rect x="940.55" y="247.62" width="16.15" height="24.12" fill="#F8F6F9"/>
<rect x="956.70" y="247.62" width="16.15" height="24.12" fill="#77CBA5"/>
<rect x="972.85" y="247.62" width="16.15" height="24.12" fill="#F8F6F9"/>
<rect x="989.00" y="247.62" width="16.15" height="24.12" fill="#F8F6F9"/>
<rect x="1005.15" y="247.62" width="16.15" height="24.12" fill="#77CBA5"/>
<rect x="1021.30" y="247.62" width="16.15" height="24.12" fill="#F8F6F9"/>
<rect x="1037.45" y="247.62" width="16.15" height="24.12" fill="#F8F6F9"/>
<rect x="1053.60" y="247.62" width="16.15" height="24.12" fill="#F8F6F9"/>
<rect x="1069.75" y="247.62" width="16.15" height="24.12" fill="#F8F6F9"/>
<rect x="1085.90" y="247.62" width="16.15" height="24.12" fill="#F8F6F9"/>
<rect x="1102.05" y="247.62" width="16.15" height="24.12" fill="#F8F6F9"/>
<rect x="1118.20" y="247.62" width="16.15" height="24.12" fill="#F8F6F9"/>
<rect x="1134.35" y="247.62" width="16.15" height="24.12" fill="#F8F6F9"/>
<rect x="1150.50" y="247.62" width="16.15" height="24.12" fill="#77CBA5"/>
<rect x="1166.65" y="247.62" width="16.15" height="24.12" fill="#77CBA5"/>
<rect x="1182.80" y="247.62" width="16.15" height="24.12" fill="#F8F6F9"/>
<rect x="1198.95" y="247.62" width="16.15" height="24.12" fill="#F8F6F9"/>
<rect x="1215.10" y="247.62" width="16.15" height="24.12" fill="#F8F6F9"/>
<rect x="1231.25" y="247.62" width="16.15" height="24.12" fill="#F8F6F9"/>
<rect x="1247.40" y="247.62" width="16.15" height="24.12" fill="#F8F6F9"/>
<rect x="1263.55" y="247.62" width="16.15" height="24.12" fill="#F8F6F9"/>
<rect x="1279.70" y="247.62" width="16.15" height="24.12" fill="#F8F6F9"/>
<rect x="1295.85" y="247.62" width="16.15" height="24.12" fill="#F8F6F9"/>
<rect x="1312.00" y="247.62" width="16.15" height="24.12" fill="#F8F6F9"/>
<rect x="1328.15" y="247.62" width="16.15" height="24.12" fill="#F8F6F9"/>
<rect x="1344.30" y="247.62" width="16.15" height="24.12" fill="#F8F6F9"/>
<rect x="1360.45" y="247.62" width="16.15" height="24.12" fill="#F8F6F9"/>
<rect x="1376.60" y="247.62" width="16.15" height="24.12" fill="#00AEEF"/>
<rect x="1392.75" y="247.62" width="16.15" height="24.12" fill="#00AEEF"/>
<rect x="1408.90" y="247.62" width="16.15" height="24.12" fill="#00AEEF"/>
<rect x="1425.05" y="247.62" width="16.15" height="24.12" fill="#00AEEF"/>
<rect x="1441.20" y="247.62" width="16.15" height="24.12" fill="#00AEEF"/>
<rect x="1457.35" y="247.62" width="16.15" height="24.12" fill="#F8F6F9"/>
<rect x="1473.50" y="247.62" width="16.15" height="24.12" fill="#00AEEF"/>
<rect x="1489.65" y="247.62" width="16.15" height="24.12" fill="#00AEEF"/>
<rect x="1505.80" y="247.62" width="16.15" height="24.12" fill="#F8F6F9"/>
<rect x="1521.95" y="247.62" width="16.15" height="24.12" fill="#00AEEF"/>
<rect x="1538.10" y="247.62" width="16.15" height="24.12" fill="#F8F6F9"/>
<rect x="1554.25" y="247.62" width="16.15" height="24.12" fill="#F8F6F9"/>
<rect x="1570.40" y="247.62" width="16.15" height="24.12" fill="#00AEEF"/>
<rect x="1586.55" y="247.62" width="16.15" height="24.12" fill="#00AEEF"/>
<rect x="1602.70" y="247.62" width="16.15" height="24.12" fill="#F8F6F9"/>
<rect x="1618.85" y="247.62" width="16.15" height="24.12" fill="#00AEEF"/>
<rect x="1635.00" y="247.62" width="16.15" height="24.12" fill="#F8F6F9"/>
<rect x="1651.15" y="247.62" width="16.15" height="24.12" fill="#00AEEF"/>
<rect x="1667.30" y="247.62" width="16.15" height="24.12" fill="#00AEEF"/>
<rect x="1683.45" y="247.62" width="16.15" height="24.12" fill="#00AEEF"/>
<rect x="1699.60" y="247.62" width="16.15" height="24.12" fill="#F8F6F9"/>
<rect x="1715.75" y="247.62" width="16.15" height="24.12" fill="#F8F6F9"/>
<rect x="1731.90" y="247.62" width="16.15" height="24.12" fill="#F8F6F9"/>
<rect x="1748.05" y="247.62" width="16.15" height="24.12" fill="#00AEEF"/>
<rect x="1764.20" y="247.62" width="16.15" height="24.12" fill="#F8F6F9"/>
<rect x="1780.35" y="247.62" width="16.15" height="24.12" fill="#F8F6F9"/>
<rect x="181.50" y="271.75" width="16.15" height="24.12" fill="#F8F6F9"/>
<rect x="197.65" y="271.75" width="16.15" height="24.12" fill="#F8F6F9"/>
<rect x="213.80" y="271.75" width="16.15" height="24.12" fill="#4682B8"/>
<rect x="229.95" y="271.75" width="16.15" height="24.12" fill="#4682B8"/>
<rect x="246.10" y="271.75" width="16.15" height="24.12" fill="#F8F6F9"/>
<rect x="262.25" y="271.75" width="16.15" height="24.12" fill="#F8F6F9"/>
<rect x="278.40" y="271.75" width="16.15" height="24.12" fill="#F8F6F9"/>
<rect x="294.55" y="271.75" width="16.15" height="24.12" fill="#F8F6F9"/>
<rect x="310.70" y="271.75" width="16.15" height="24.12" fill="#F8F6F9"/>
<rect x="326.85" y="271.75" width="16.15" height="24.12" fill="#F8F6F9"/>
<rect x="343.00" y="271.75" width="16.15" height="24.12" fill="#F8F6F9"/>
<rect x="359.15" y="271.75" width="16.15" height="24.12" fill="#F8F6F9"/>
<rect x="375.30" y="271.75" width="16.15" height="24.12" fill="#F8F6F9"/>
<rect x="391.45" y="271.75" width="16.15" height="24.12" fill="#F8F6F9"/>
<rect x="407.60" y="271.75" width="16.15" height="24.12" fill="#F8F6F9"/>
<rect x="423.75" y="271.75" width="16.15" height="24.12" fill="#F8F6F9"/>
<rect x="439.90" y="271.75" width="16.15" height="24.12" fill="#F8F6F9"/>
<rect x="456.05" y="271.75" width="16.15" height="24.12" fill="#4682B8"/>
<rect x="472.20" y="271.75" width="16.15" height="24.12" fill="#F8F6F9"/>
<rect x="488.35" y="271.75" width="16.15" height="24.12" fill="#F8F6F9"/>
<rect x="504.50" y="271.75" width="16.15" height="24.12" fill="#F8F6F9"/>
<rect x="520.65" y="271.75" width="16.15" height="24.12" fill="#F8F6F9"/>
<rect x="536.80" y="271.75" width="16.15" height="24.12" fill="#F8F6F9"/>
<rect x="552.95" y="271.75" width="16.15" height="24.12" fill="#F8F6F9"/>
<rect x="569.10" y="271.75" width="16.15" height="24.12" fill="#F8F6F9"/>
<rect x="585.25" y="271.75" width="16.15" height="24.12" fill="#F8F6F9"/>
<rect x="601.40" y="271.75" width="16.15" height="24.12" fill="#F8F6F9"/>
<rect x="617.55" y="271.75" width="16.15" height="24.12" fill="#F8F6F9"/>
<rect x="633.70" y="271.75" width="16.15" height="24.12" fill="#4682B8"/>
<rect x="649.85" y="271.75" width="16.15" height="24.12" fill="#F8F6F9"/>
<rect x="666.00" y="271.75" width="16.15" height="24.12" fill="#F8F6F9"/>
<rect x="682.15" y="271.75" width="16.15" height="24.12" fill="#F8F6F9"/>
<rect x="698.30" y="271.75" width="16.15" height="24.12" fill="#F8F6F9"/>
<rect x="714.45" y="271.75" width="16.15" height="24.12" fill="#F8F6F9"/>
<rect x="730.60" y="271.75" width="16.15" height="24.12" fill="#F8F6F9"/>
<rect x="746.75" y="271.75" width="16.15" height="24.12" fill="#F8F6F9"/>
<rect x="762.90" y="271.75" width="16.15" height="24.12" fill="#F8F6F9"/>
<rect x="779.05" y="271.75" width="16.15" height="24.12" fill="#F8F6F9"/>
<rect x="795.20" y="271.75" width="16.15" height="24.12" fill="#F8F6F9"/>
<rect x="811.35" y="271.75" width="16.15" height="24.12" fill="#F8F6F9"/>
<rect x="827.50" y="271.75" width="16.15" height="24.12" fill="#F8F6F9"/>
<rect x="843.65" y="271.75" width="16.15" height="24.12" fill="#F8F6F9"/>
<rect x="859.80" y="271.75" width="16.15" height="24.12" fill="#4682B8"/>
<rect x="875.95" y="271.75" width="16.15" height="24.12" fill="#4682B8"/>
<rect x="892.10" y="271.75" width="16.15" height="24.12" fill="#F8F6F9"/>
<rect x="908.25" y="271.75" width="16.15" height="24.12" fill="#4682B8"/>
<rect x="924.40" y="271.75" width="16.15" height="24.12" fill="#4682B8"/>
<rect x="940.55" y="271.75" width="16.15" height="24.12" fill="#F8F6F9"/>
<rect x="956.70" y="271.75" width="16.15" height="24.12" fill="#4682B8"/>
<rect x="972.85" y="271.75" width="16.15" height="24.12" fill="#F8F6F9"/>
<rect x="989.00" y="271.75" width="16.15" height="24.12" fill="#F8F6F9"/>
<rect x="1005.15" y="271.75" width="16.15" height="24.12" fill="#4682B8"/>
<rect x="1021.30" y="271.75" width="16.15" height="24.12" fill="#F8F6F9"/>
<rect x="1037.45" y="271.75" width="16.15" height="24.12" fill="#F8F6F9"/>
<rect x="1053.60" y="271.75" width="16.15" height="24.12" fill="#F8F6F9"/>
<rect x="1069.75" y="271.75" width="16.15" height="24.12" fill="#F8F6F9"/>
<rect x="1085.90" y="271.75" width="16.15" height="24.12" fill="#F8F6F9"/>
<rect x="1102.05" y="271.75" width="16.15" height="24.12" fill="#F8F6F9"/>
<rect x="1118.20" y="271.75" width="16.15" height="24.12" fill="#F8F6F9"/>
<rect x="1134.35" y="271.75" width="16.15" height="24.12" fill="#F8F6F9"/>
<rect x="1150.50" y="271.75" width="16.15" height="24.12" fill="#4682B8"/>
<rect x="1166.65" y="271.75" width="16.15" height="24.12" fill="#4682B8"/>
<rect x="1182.80" y="271.75" width="16.15" height="24.12" fill="#F8F6F9"/>
<rect x="1198.95" y="271.75" width="16.15" height="24.12" fill="#F8F6F9"/>
<rect x="1215.10" y="271.75" width="16.15" height="24.12" fill="#F8F6F9"/>
<rect x="1231.25" y="271.75" width="16.15" height="24.12" fill="#F8F6F9"/>
<rect x="1247.40" y="271.75" width="16.15" height="24.12" fill="#F8F6F9"/>
<rect x="1263.55" y="271.75" width="16.15" height="24.12" fill="#F8F6F9"/>
<rect x="1279.70" y="271.75" width="16.15" height="24.12" fill="#F8F6F9"/>
<rect x="1295.85" y="271.75" width="16.15" height="24.12" fill="#F8F6F9"/>
<rect x="1312.00" y="271.75" width="16.15" height="24.12" fill="#F8F6F9"/>
<rect x="1328.15" y="271.75" width="16.15" height="24.12" fill="#F8F6F9"/>
<rect x="1344.30" y="271.75" width="16.15" height="24.12" fill="#F8F6F9"/>
<rect x="1360.45" y="271.75" width="16.15" height="24.12" fill="#F8F6F9"/>
<rect x="1376.60" y="271.75" width="16.15" height="24.12" fill="#4682B8"/>
<rect x="1392.75" y="271.75" width="16.15" height="24.12" fill="#4682B8"/>
<rect x="1408.90" y="271.75" width="16.15" height="24.12" fill="#4682B8"/>
<rect x="1425.05" y="271.75" width="16.15" height="24.12" fill="#4682B8"/>
<rect x="1441.20" y="271.75" width="16.15" height="24.12" fill="#4682B8"/>
<rect x="1457.35" y="271.75" width="16.15" height="24.12" fill="#F8F6F9"/>
<rect x="1473.50" y="271.75" width="16.15" height="24.12" fill="#4682B8"/>
<rect x="1489.65" y="271.75" width="16.15" height="24.12" fill="#4682B8"/>
<rect x="1505.80" y="271.75" width="16.15" height="24.12" fill="#F8F6F9"/>
<rect x="1521.95" y="271.75" width="16.15" height="24.12" fill="#4682B8"/>
<rect x="1538.10" y="271.75" width="16.15" height="24.12" fill="#F8F6F9"/>
<rect x="1554.25" y="271.75" width="16.15" height="24.12" fill="#F8F6F9"/>
<rect x="1570.40" y="271.75" width="16.15" height="24.12" fill="#4682B8"/>
<rect x="1586.55" y="271.75" width="16.15" height="24.12" fill="#4682B8"/>
<rect x="1602.70" y="271.75" width="16.15" height="24.12" fill="#F8F6F9"/>
<rect x="1618.85" y="271.75" width="16.15" height="24.12" fill="#4682B8"/>
<rect x="1635.00" y="271.75" width="16.15" height="24.12" fill="#F8F6F9"/>
<rect x="1651.15" y="271.75" width="16.15" height="24.12" fill="#4682B8"/>
<rect x="1667.30" y="271.75" width="16.15" height="24.12" fill="#4682B8"/>
<rect x="1683.45" y="271.75" width="16.15" height="24.12" fill="#4682B8"/>
<rect x="1699.60" y="271.75" width="16.15" height="24.12" fill="#F8F6F9"/>
<rect x="1715.75" y="271.75" width="16.15" height="24.12" fill="#F8F6F9"/>
<rect x="1731.90" y="271.75" width="16.15" height="24.12" fill="#F8F6F9"/>
<rect x="1748.05" y="271.75" width="16.15" height="24.12" fill="#4682B8"/>
<rect x="1764.20" y="271.75" width="16.15" height="24.12" fill="#F8F6F9"/>
<rect x="1780.35" y="271.75" width="16.15" height="24.12" fill="#F8F6F9"/>
<rect x="181.50" y="295.88" width="16.15" height="24.12" fill="#F8F6F9"/>
<rect x="197.65" y="295.88" width="16.15" height="24.12" fill="#F8F6F9"/>
<rect x="213.80" y="295.88" width="16.15" height="24.12" fill="#D52B52"/>
<rect x="229.95" y="295.88" width="16.15" height="24.12" fill="#D52B52"/>
<rect x="246.10" y="295.88" width="16.15" height="24.12" fill="#F8F6F9"/>
<rect x="262.25" y="295.88" width="16.15" height="24.12" fill="#F8F6F9"/>
<rect x="278.40" y="295.88" width="16.15" height="24.12" fill="#F8F6F9"/>
<rect x="294.55" y="295.88" width="16.15" height="24.12" fill="#F8F6F9"/>
<rect x="310.70" y="295.88" width="16.15" height="24.12" fill="#F8F6F9"/>
<rect x="326.85" y="295.88" width="16.15" height="24.12" fill="#F8F6F9"/>
<rect x="343.00" y="295.88" width="16.15" height="24.12" fill="#F8F6F9"/>
<rect x="359.15" y="295.88" width="16.15" height="24.12" fill="#F8F6F9"/>
<rect x="375.30" y="295.88" width="16.15" height="24.12" fill="#F8F6F9"/>
<rect x="391.45" y="295.88" width="16.15" height="24.12" fill="#F8F6F9"/>
<rect x="407.60" y="295.88" width="16.15" height="24.12" fill="#F8F6F9"/>
<rect x="423.75" y="295.88" width="16.15" height="24.12" fill="#F8F6F9"/>
<rect x="439.90" y="295.88" width="16.15" height="24.12" fill="#F8F6F9"/>
<rect x="456.05" y="295.88" width="16.15" height="24.12" fill="#D52B52"/>
<rect x="472.20" y="295.88" width="16.15" height="24.12" fill="#F8F6F9"/>
<rect x="488.35" y="295.88" width="16.15" height="24.12" fill="#F8F6F9"/>
<rect x="504.50" y="295.88" width="16.15" height="24.12" fill="#F8F6F9"/>
<rect x="520.65" y="295.88" width="16.15" height="24.12" fill="#F8F6F9"/>
<rect x="536.80" y="295.88" width="16.15" height="24.12" fill="#F8F6F9"/>
<rect x="552.95" y="295.88" width="16.15" height="24.12" fill="#F8F6F9"/>
<rect x="569.10" y="295.88" width="16.15" height="24.12" fill="#F8F6F9"/>
<rect x="585.25" y="295.88" width="16.15" height="24.12" fill="#F8F6F9"/>
<rect x="601.40" y="295.88" width="16.15" height="24.12" fill="#F8F6F9"/>
<rect x="617.55" y="295.88" width="16.15" height="24.12" fill="#F8F6F9"/>
<rect x="633.70" y="295.88" width="16.15" height="24.12" fill="#D52B52"/>
<rect x="649.85" y="295.88" width="16.15" height="24.12" fill="#F8F6F9"/>
<rect x="666.00" y="295.88" width="16.15" height="24.12" fill="#F8F6F9"/>
<rect x="682.15" y="295.88" width="16.15" height="24.12" fill="#F8F6F9"/>
<rect x="698.30" y="295.88" width="16.15" height="24.12" fill="#F8F6F9"/>
<rect x="714.45" y="295.88" width="16.15" height="24.12" fill="#F8F6F9"/>
<rect x="730.60" y="295.88" width="16.15" height="24.12" fill="#F8F6F9"/>
<rect x="746.75" y="295.88" width="16.15" height="24.12" fill="#F8F6F9"/>
<rect x="762.90" y="295.88" width="16.15" height="24.12" fill="#F8F6F9"/>
<rect x="779.05" y="295.88" width="16.15" height="24.12" fill="#F8F6F9"/>
<rect x="795.20" y="295.88" width="16.15" height="24.12" fill="#F8F6F9"/>
<rect x="811.35" y="295.88" width="16.15" height="24.12" fill="#F8F6F9"/>
<rect x="827.50" y="295.88" width="16.15" height="24.12" fill="#F8F6F9"/>
<rect x="843.65" y="295.88" width="16.15" height="24.12" fill="#F8F6F9"/>
<rect x="859.80" y="295.88" width="16.15" height="24.12" fill="#D52B52"/>
<rect x="875.95" y="295.88" width="16.15" height="24.12" fill="#D52B52"/>
<rect x="892.10" y="295.88" width="16.15" height="24.12" fill="#F8F6F9"/>
<rect x="908.25" y="295.88" width="16.15" height="24.12" fill="#D52B52"/>
<rect x="924.40" y="295.88" width="16.15" height="24.12" fill="#D52B52"/>
<rect x="940.55" y="295.88" width="16.15" height="24.12" fill="#F8F6F9"/>
<rect x="956.70" y="295.88" width="16.15" height="24.12" fill="#D52B52"/>
<rect x="972.85" y="295.88" width="16.15" height="24.12" fill="#F8F6F9"/>
<rect x="989.00" y="295.88" width="16.15" height="24.12" fill="#F8F6F9"/>
<rect x="1005.15" y="295.88" width="16.15" height="24.12" fill="#D52B52"/>
<rect x="1021.30" y="295.88" width="16.15" height="24.12" fill="#F8F6F9"/>
<rect x="1037.45" y="295.88" width="16.15" height="24.12" fill="#F8F6F9"/>
<rect x="1053.60" y="295.88" width="16.15" height="24.12" fill="#F8F6F9"/>
<rect x="1069.75" y="295.88" width="16.15" height="24.12" fill="#F8F6F9"/>
<rect x="1085.90" y="295.88" width="16.15" height="24.12" fill="#F8F6F9"/>
<rect x="1102.05" y="295.88" width="16.15" height="24.12" fill="#F8F6F9"/>
<rect x="1118.20" y="295.88" width="16.15" height="24.12" fill="#F8F6F9"/>
<rect x="1134.35" y="295.88" width="16.15" height="24.12" fill="#F8F6F9"/>
<rect x="1150.50" y="295.88" width="16.15" height="24.12" fill="#D52B52"/>
<rect x="1166.65" y="295.88" width="16.15" height="24.12" fill="#D52B52"/>
<rect x="1182.80" y="295.88" width="16.15" height="24.12" fill="#F8F6F9"/>
<rect x="1198.95" y="295.88" width="16.15" height="24.12" fill="#F8F6F9"/>
<rect x="1215.10" y="295.88" width="16.15" height="24.12" fill="#F8F6F9"/>
<rect x="1231.25" y="295.88" width="16.15" height="24.12" fill="#F8F6F9"/>
<rect x="1247.40" y="295.88" width="16.15" height="24.12" fill="#F8F6F9"/>
<rect x="1263.55" y="295.88" width="16.15" height="24.12" fill="#F8F6F9"/>
<rect x="1279.70" y="295.88" width="16.15" height="24.12" fill="#F8F6F9"/>
<rect x="1295.85" y="295.88" width="16.15" height="24.12" fill="#F8F6F9"/>
<rect x="1312.00" y="295.88" width="16.15" height="24.12" fill="#F8F6F9"/>
<rect x="1328.15" y="295.88" width="16.15" height="24.12" fill="#F8F6F9"/>
<rect x="1344.30" y="295.88" width="16.15" height="24.12" fill="#F8F6F9"/>
<rect x="1360.45" y="295.88" width="16.15" height="24.12" fill="#F8F6F9"/>
<rect x="1376.60" y="295.88" width="16.15" height="24.12" fill="#D52B52"/>
<rect x="1392.75" y="295.88" width="16.15" height="24.12" fill="#D52B52"/>
<rect x="1408.90" y="295.88" width="16.15" height="24.12" fill="#D52B52"/>
<rect x="1425.05" y="295.88" width="16.15" height="24.12" fill="#D52B52"/>
<rect x="1441.20" y="295.88" width="16.15" height="24.12" fill="#D52B52"/>
<rect x="1457.35" y="295.88" width="16.15" height="24.12" fill="#F8F6F9"/>
<rect x="1473.50" y="295.88" width="16.15" height="24.12" fill="#D52B52"/>
<rect x="1489.65" y="295.88" width="16.15" height="24.12" fill="#D52B52"/>
<rect x="1505.80" y="295.88" width="16.15" height="24.12" fill="#F8F6F9"/>
<rect x="1521.95" y="295.88" width="16.15" height="24.12" fill="#D52B52"/>
<rect x="1538.10" y="295.88" width="16.15" height="24.12" fill="#F8F6F9"/>
<rect x="1554.25" y="295.88" width="16.15" height="24.12" fill="#F8F6F9"/>
<rect x="1570.40" y="295.88" width="16.15" height="24.12" fill="#D52B52"/>
<rect x="1586.55" y="295.88" width="16.15" height="24.12" fill="#D52B52"/>
<rect x="1602.70" y="295.88" width="16.15" height="24.12" fill="#F8F6F9"/>
<rect x="1618.85" y="295.88" width="16.15" height="24.12" fill="#D52B52"/>
<rect x="1635.00" y="295.88" width="16.15" height="24.12" fill="#F8F6F9"/>
<rect x="1651.15" y="295.88" width="16.15" height="24.12" fill="#D52B52"/>
<rect x="1667.30" y="295.88" width="16.15" height="24.12" fill="#D52B52"/>
<rect x="1683.45" y="295.88" width="16.15" height="24.12" fill="#D52B52"/>
<rect x="1699.60" y="295.88" width="16.15" height="24.12" fill="#F8F6F9"/>
<rect x="1715.75" y="295.88" width="16.15" height="24.12" fill="#F8F6F9"/>
<rect x="1731.90" y="295.88" width="16.15" height="24.12" fill="#F8F6F9"/>
<rect x="1748.05" y="295.88" width="16.15" height="24.12" fill="#D52B52"/>
<rect x="1764.20" y="295.88" width="16.15" height="24.12" fill="#F8F6F9"/>
<rect x="1780.35" y="295.88" width="16.15" height="24.12" fill="#F8F6F9"/>
<rect x="181.50" y="320.00" width="16.15" height="24.12" fill="#F8F6F9"/>
<rect x="197.65" y="320.00" width="16.15" height="24.12" fill="#F8F6F9"/>
<rect x="213.80" y="320.00" width="16.15" height="24.12" fill="#D12AA2"/>
<rect x="229.95" y="320.00" width="16.15" height="24.12" fill="#911C70"/>
<rect x="246.10" y="320.00" width="16.15" height="24.12" fill="#F8F6F9"/>
<rect x="262.25" y="320.00" width="16.15" height="24.12" fill="#F8F6F9"/>
<rect x="278.40" y="320.00" width="16.15" height="24.12" fill="#F8F6F9"/>
<rect x="294.55" y="320.00" width="16.15" height="24.12" fill="#F8F6F9"/>
<rect x="310.70" y="320.00" width="16.15" height="24.12" fill="#F8F6F9"/>
<rect x="326.85" y="320.00" width="16.15" height="24.12" fill="#F8F6F9"/>
<rect x="343.00" y="320.00" width="16.15" height="24.12" fill="#F8F6F9"/>
<rect x="359.15" y="320.00" width="16.15" height="24.12" fill="#F8F6F9"/>
<rect x="375.30" y="320.00" width="16.15" height="24.12" fill="#F8F6F9"/>
<rect x="391.45" y="320.00" width="16.15" height="24.12" fill="#F8F6F9"/>
<rect x="407.60" y="320.00" width="16.15" height="24.12" fill="#F8F6F9"/>
<rect x="423.75" y="320.00" width="16.15" height="24.12" fill="#F8F6F9"/>
<rect x="439.90" y="320.00" width="16.15" height="24.12" fill="#F8F6F9"/>
<rect x="456.05" y="320.00" width="16.15" height="24.12" fill="#911C70"/>
<rect x="472.20" y="320.00" width="16.15" height="24.12" fill="#F8F6F9"/>
<rect x="488.35" y="320.00" width="16.15" height="24.12" fill="#F8F6F9"/>
<rect x="504.50" y="320.00" width="16.15" height="24.12" fill="#F8F6F9"/>
<rect x="520.65" y="320.00" width="16.15" height="24.12" fill="#F8F6F9"/>
<rect x="536.80" y="320.00" width="16.15" height="24.12" fill="#F8F6F9"/>
<rect x="552.95" y="320.00" width="16.15" height="24.12" fill="#F8F6F9"/>
<rect x="569.10" y="320.00" width="16.15" height="24.12" fill="#F8F6F9"/>
<rect x="585.25" y="320.00" width="16.15" height="24.12" fill="#F8F6F9"/>
<rect x="601.40" y="320.00" width="16.15" height="24.12" fill="#F8F6F9"/>
<rect x="617.55" y="320.00" width="16.15" height="24.12" fill="#F8F6F9"/>
<rect x="633.70" y="320.00" width="16.15" height="24.12" fill="#D12AA2"/>
<rect x="649.85" y="320.00" width="16.15" height="24.12" fill="#F8F6F9"/>
<rect x="666.00" y="320.00" width="16.15" height="24.12" fill="#F8F6F9"/>
<rect x="682.15" y="320.00" width="16.15" height="24.12" fill="#F8F6F9"/>
<rect x="698.30" y="320.00" width="16.15" height="24.12" fill="#F8F6F9"/>
<rect x="714.45" y="320.00" width="16.15" height="24.12" fill="#F8F6F9"/>
<rect x="730.60" y="320.00" width="16.15" height="24.12" fill="#F8F6F9"/>
<rect x="746.75" y="320.00" width="16.15" height="24.12" fill="#F8F6F9"/>
<rect x="762.90" y="320.00" width="16.15" height="24.12" fill="#F8F6F9"/>
<rect x="779.05" y="320.00" width="16.15" height="24.12" fill="#F8F6F9"/>
<rect x="795.20" y="320.00" width="16.15" height="24.12" fill="#F8F6F9"/>
<rect x="811.35" y="320.00" width="16.15" height="24.12" fill="#F8F6F9"/>
<rect x="827.50" y="320.00" width="16.15" height="24.12" fill="#F8F6F9"/>
<rect x="843.65" y="320.00" width="16.15" height="24.12" fill="#F8F6F9"/>
<rect x="859.80" y="320.00" width="16.15" height="24.12" fill="#D12AA2"/>
<rect x="875.95" y="320.00" width="16.15" height="24.12" fill="#911C70"/>
<rect x="892.10" y="320.00" width="16.15" height="24.12" fill="#F8F6F9"/>
<rect x="908.25" y="320.00" width="16.15" height="24.12" fill="#911C70"/>
<rect x="924.40" y="320.00" width="16.15" height="24.12" fill="#D12AA2"/>
<rect x="940.55" y="320.00" width="16.15" height="24.12" fill="#F8F6F9"/>
<rect x="956.70" y="320.00" width="16.15" height="24.12" fill="#911C70"/>
<rect x="972.85" y="320.00" width="16.15" height="24.12" fill="#F8F6F9"/>
<rect x="989.00" y="320.00" width="16.15" height="24.12" fill="#F8F6F9"/>
<rect x="1005.15" y="320.00" width="16.15" height="24.12" fill="#911C70"/>
<rect x="1021.30" y="320.00" width="16.15" height="24.12" fill="#F8F6F9"/>
<rect x="1037.45" y="320.00" width="16.15" height="24.12" fill="#F8F6F9"/>
<rect x="1053.60" y="320.00" width="16.15" height="24.12" fill="#F8F6F9"/>
<rect x="1069.75" y="320.00" width="16.15" height="24.12" fill="#F8F6F9"/>
<rect x="1085.90" y="320.00" width="16.15" height="24.12" fill="#F8F6F9"/>
<rect x="1102.05" y="320.00" width="16.15" height="24.12" fill="#F8F6F9"/>
<rect x="1118.20" y="320.00" width="16.15" height="24.12" fill="#F8F6F9"/>
<rect x="1134.35" y="320.00" width="16.15" height="24.12" fill="#F8F6F9"/>
<rect x="1150.50" y="320.00" width="16.15" height="24.12" fill="#911C70"/>
<rect x="1166.65" y="320.00" width="16.15" height="24.12" fill="#911C70"/>
<rect x="1182.80" y="320.00" width="16.15" height="24.12" fill="#F8F6F9"/>
<rect x="1198.95" y="320.00" width="16.15" height="24.12" fill="#F8F6F9"/>
<rect x="1215.10" y="320.00" width="16.15" height="24.12" fill="#F8F6F9"/>
<rect x="1231.25" y="320.00" width="16.15" height="24.12" fill="#F8F6F9"/>
<rect x="1247.40" y="320.00" width="16.15" height="24.12" fill="#F8F6F9"/>
<rect x="1263.55" y="320.00" width="16.15" height="24.12" fill="#F8F6F9"/>
<rect x="1279.70" y="320.00" width="16.15" height="24.12" fill="#F8F6F9"/>
<rect x="1295.85" y="320.00" width="16.15" height="24.12" fill="#F8F6F9"/>
<rect x="1312.00" y="320.00" width="16.15" height="24.12" fill="#F8F6F9"/>
<rect x="1328.15" y="320.00" width="16.15" height="24.12" fill="#F8F6F9"/>
<rect x="1344.30" y="320.00" width="16.15" height="24.12" fill="#F8F6F9"/>
<rect x="1360.45" y="320.00" width="16.15" height="24.12" fill="#F8F6F9"/>
<rect x="1376.60" y="320.00" width="16.15" height="24.12" fill="#D12AA2"/>
<rect x="1392.75" y="320.00" width="16.15" height="24.12" fill="#911C70"/>
<rect x="1408.90" y="320.00" width="16.15" height="24.12" fill="#911C70"/>
<rect x="1425.05" y="320.00" width="16.15" height="24.12" fill="#D12AA2"/>
<rect x="1441.20" y="320.00" width="16.15" height="24.12" fill="#D12AA2"/>
<rect x="1457.35" y="320.00" width="16.15" height="24.12" fill="#F8F6F9"/>
<rect x="1473.50" y="320.00" width="16.15" height="24.12" fill="#D12AA2"/>
<rect x="1489.65" y="320.00" width="16.15" height="24.12" fill="#D12AA2"/>
<rect x="1505.80" y="320.00" width="16.15" height="24.12" fill="#F8F6F9"/>
<rect x="1521.95" y="320.00" width="16.15" height="24.12" fill="#D12AA2"/>
<rect x="1538.10" y="320.00" width="16.15" height="24.12" fill="#F8F6F9"/>
<rect x="1554.25" y="320.00" width="16.15" height="24.12" fill="#F8F6F9"/>
<rect x="1570.40" y="320.00" width="16.15" height="24.12" fill="#D12AA2"/>
<rect x="1586.55" y="320.00" width="16.15" height="24.12" fill="#D12AA2"/>
<rect x="1602.70" y="320.00" width="16.15" height="24.12" fill="#F8F6F9"/>
<rect x="1618.85" y="320.00" width="16.15" height="24.12" fill="#D12AA2"/>
<rect x="1635.00" y="320.00" width="16.15" height="24.12" fill="#F8F6F9"/>
<rect x="1651.15" y="320.00" width="16.15" height="24.12" fill="#D12AA2"/>
<rect x="1667.30" y="320.00" width="16.15" height="24.12" fill="#D12AA2"/>
<rect x="1683.45" y="320.00" width="16.15" height="24.12" fill="#D12AA2"/>
<rect x="1699.60" y="320.00" width="16.15" height="24.12" fill="#F8F6F9"/>
<rect x="1715.75" y="320.00" width="16.15" height="24.12" fill="#F8F6F9"/>
<rect x="1731.90" y="320.00" width="16.15" height="24.12" fill="#F8F6F9"/>
<rect x="1748.05" y="320.00" width="16.15" height="24.12" fill="#D12AA2"/>
<rect x="1764.20" y="320.00" width="16.15" height="24.12" fill="#F8F6F9"/>
<rect x="1780.35" y="320.00" width="16.15" height="24.12" fill="#F8F6F9"/>
<rect x="181.50" y="344.12" width="16.15" height="24.12" fill="#F8F6F9"/>
<rect x="197.65" y="344.12" width="16.15" height="24.12" fill="#F8F6F9"/>
<rect x="213.80" y="344.12" width="16.15" height="24.12" fill="#D1AA2D"/>
<rect x="229.95" y="344.12" width="16.15" height="24.12" fill="#D1AA2D"/>
<rect x="246.10" y="344.12" width="16.15" height="24.12" fill="#F8F6F9"/>
<rect x="262.25" y="344.12" width="16.15" height="24.12" fill="#F8F6F9"/>
<rect x="278.40" y="344.12" width="16.15" height="24.12" fill="#F8F6F9"/>
<rect x="294.55" y="344.12" width="16.15" height="24.12" fill="#F8F6F9"/>
<rect x="310.70" y="344.12" width="16.15" height="24.12" fill="#F8F6F9"/>
<rect x="326.85" y="344.12" width="16.15" height="24.12" fill="#F8F6F9"/>
<rect x="343.00" y="344.12" width="16.15" height="24.12" fill="#F8F6F9"/>
<rect x="359.15" y="344.12" width="16.15" height="24.12" fill="#F8F6F9"/>
<rect x="375.30" y="344.12" width="16.15" height="24.12" fill="#F8F6F9"/>
<rect x="391.45" y="344.12" width="16.15" height="24.12" fill="#F8F6F9"/>
<rect x="407.60" y="344.12" width="16.15" height="24.12" fill="#F8F6F9"/>
<rect x="423.75" y="344.12" width="16.15" height="24.12" fill="#F8F6F9"/>
<rect x="439.90" y="344.12" width="16.15" height="24.12" fill="#F8F6F9"/>
<rect x="456.05" y="344.12" width="16.15" height="24.12" fill="#D1AA2D"/>
<rect x="472.20" y="344.12" width="16.15" height="24.12" fill="#F8F6F9"/>
<rect x="488.35" y="344.12" width="16.15" height="24.12" fill="#F8F6F9"/>
<rect x="504.50" y="344.12" width="16.15" height="24.12" fill="#F8F6F9"/>
<rect x="520.65" y="344.12" width="16.15" height="24.12" fill="#F8F6F9"/>
<rect x="536.80" y="344.12" width="16.15" height="24.12" fill="#F8F6F9"/>
<rect x="552.95" y="344.12" width="16.15" height="24.12" fill="#F8F6F9"/>
<rect x="569.10" y="344.12" width="16.15" height="24.12" fill="#F8F6F9"/>
<rect x="585.25" y="344.12" width="16.15" height="24.12" fill="#F8F6F9"/>
<rect x="601.40" y="344.12" width="16.15" height="24.12" fill="#F8F6F9"/>
<rect x="617.55" y="344.12" width="16.15" height="24.12" fill="#F8F6F9"/>
<rect x="633.70" y="344.12" width="16.15" height="24.12" fill="#D1AA2D"/>
<rect x="649.85" y="344.12" width="16.15" height="24.12" fill="#F8F6F9"/>
<rect x="666.00" y="344.12" width="16.15" height="24.12" fill="#F8F6F9"/>
<rect x="682.15" y="344.12" width="16.15" height="24.12" fill="#F8F6F9"/>
<rect x="698.30" y="344.12" width="16.15" height="24.12" fill="#F8F6F9"/>
<rect x="714.45" y="344.12" width="16.15" height="24.12" fill="#F8F6F9"/>
<rect x="730.60" y="344.12" width="16.15" height="24.12" fill="#F8F6F9"/>
<rect x="746.75" y="344.12" width="16.15" height="24.12" fill="#F8F6F9"/>
<rect x="762.90" y="344.12" width="16.15" height="24.12" fill="#F8F6F9"/>
<rect x="779.05" y="344.12" width="16.15" height="24.12" fill="#F8F6F9"/>
<rect x="795.20" y="344.12" width="16.15" height="24.12" fill="#F8F6F9"/>
<rect x="811.35" y="344.12" width="16.15" height="24.12" fill="#F8F6F9"/>
<rect x="827.50" y="344.12" width="16.15" height="24.12" fill="#F8F6F9"/>
<rect x="843.65" y="344.12" width="16.15" height="24.12" fill="#F8F6F9"/>
<rect x="859.80" y="344.12" width="16.15" height="24.12" fill="#F5540A"/>
<rect x="875.95" y="344.12" width="16.15" height="24.12" fill="#D1AA2D"/>
<rect x="892.10" y="344.12" width="16.15" height="24.12" fill="#F8F6F9"/>
<rect x="908.25" y="344.12" width="16.15" height="24.12" fill="#D1AA2D"/>
<rect x="924.40" y="344.12" width="16.15" height="24.12" fill="#D1AA2D"/>
<rect x="940.55" y="344.12" width="16.15" height="24.12" fill="#F8F6F9"/>
<rect x="956.70" y="344.12" width="16.15" height="24.12" fill="#D1AA2D"/>
<rect x="972.85" y="344.12" width="16.15" height="24.12" fill="#F8F6F9"/>
<rect x="989.00" y="344.12" width="16.15" height="24.12" fill="#F8F6F9"/>
<rect x="1005.15" y="344.12" width="16.15" height="24.12" fill="#D1AA2D"/>
<rect x="1021.30" y="344.12" width="16.15" height="24.12" fill="#F8F6F9"/>
<rect x="1037.45" y="344.12" width="16.15" height="24.12" fill="#F8F6F9"/>
<rect x="1053.60" y="344.12" width="16.15" height="24.12" fill="#F8F6F9"/>
<rect x="1069.75" y="344.12" width="16.15" height="24.12" fill="#F8F6F9"/>
<rect x="1085.90" y="344.12" width="16.15" height="24.12" fill="#F8F6F9"/>
<rect x="1102.05" y="344.12" width="16.15" height="24.12" fill="#F8F6F9"/>
<rect x="1118.20" y="344.12" width="16.15" height="24.12" fill="#F8F6F9"/>
<rect x="1134.35" y="344.12" width="16.15" height="24.12" fill="#F8F6F9"/>
<rect x="1150.50" y="344.12" width="16.15" height="24.12" fill="#F5540A"/>
<rect x="1166.65" y="344.12" width="16.15" height="24.12" fill="#F5540A"/>
<rect x="1182.80" y="344.12" width="16.15" height="24.12" fill="#F8F6F9"/>
<rect x="1198.95" y="344.12" width="16.15" height="24.12" fill="#F8F6F9"/>
<rect x="1215.10" y="344.12" width="16.15" height="24.12" fill="#F8F6F9"/>
<rect x="1231.25" y="344.12" width="16.15" height="24.12" fill="#F8F6F9"/>
<rect x="1247.40" y="344.12" width="16.15" height="24.12" fill="#F8F6F9"/>
<rect x="1263.55" y="344.12" width="16.15" height="24.12" fill="#F8F6F9"/>
<rect x="1279.70" y="344.12" width="16.15" height="24.12" fill="#F8F6F9"/>
<rect x="1295.85" y="344.12" width="16.15" height="24.12" fill="#F8F6F9"/>
<rect x="1312.00" y="344.12" width="16.15" height="24.12" fill="#F8F6F9"/>
<rect x="1328.15" y="344.12" width="16.15" height="24.12" fill="#F8F6F9"/>
<rect x="1344.30" y="344.12" width="16.15" height="24.12" fill="#F8F6F9"/>
<rect x="1360.45" y="344.12" width="16.15" height="24.12" fill="#F8F6F9"/>
<rect x="1376.60" y="344.12" width="16.15" height="24.12" fill="#F5540A"/>
<rect x="1392.75" y="344.12" width="16.15" height="24.12" fill="#F5540A"/>
<rect x="1408.90" y="344.12" width="16.15" height="24.12" fill="#F5540A"/>
<rect x="1425.05" y="344.12" width="16.15" height="24.12" fill="#F5540A"/>
<rect x="1441.20" y="344.12" width="16.15" height="24.12" fill="#F5540A"/>
<rect x="1457.35" y="344.12" width="16.15" height="24.12" fill="#F8F6F9"/>
<rect x="1473.50" y="344.12" width="16.15" height="24.12" fill="#F5540A"/>
<rect x="1489.65" y="344.12" width="16.15" height="24.12" fill="#D1AA2D"/>
<rect x="1505.80" y="344.12" width="16.15" height="24.12" fill="#F8F6F9"/>
<rect x="1521.95" y="344.12" width="16.15" height="24.12" fill="#D1AA2D"/>
<rect x="1538.10" y="344.12" width="16.15" height="24.12" fill="#F8F6F9"/>
<rect x="1554.25" y="344.12" width="16.15" height="24.12" fill="#F8F6F9"/>
<rect x="1570.40" y="344.12" width="16.15" height="24.12" fill="#D1AA2D"/>
<rect x="1586.55" y="344.12" width="16.15" height="24.12" fill="#F5540A"/>
<rect x="1602.70" y="344.12" width="16.15" height="24.12" fill="#F8F6F9"/>
<rect x="1618.85" y="344.12" width="16.15" height="24.12" fill="#D1AA2D"/>
<rect x="1635.00" y="344.12" width="16.15" height="24.12" fill="#F8F6F9"/>
<rect x="1651.15" y="344.12" width="16.15" height="24.12" fill="#D1AA2D"/>
<rect x="1667.30" y="344.12" width="16.15" height="24.12" fill="#F5540A"/>
<rect x="1683.45" y="344.12" width="16.15" height="24.12" fill="#F5540A"/>
<rect x="1699.60" y="344.12" width="16.15" height="24.12" fill="#F8F6F9"/>
<rect x="1715.75" y="344.12" width="16.15" height="24.12" fill="#F8F6F9"/>
<rect x="1731.90" y="344.12" width="16.15" height="24.12" fill="#F8F6F9"/>
<rect x="1748.05" y="344.12" width="16.15" height="24.12" fill="#F5540A"/>
<rect x="1764.20" y="344.12" width="16.15" height="24.12" fill="#F8F6F9"/>
<rect x="1780.35" y="344.12" width="16.15" height="24.12" fill="#F8F6F9"/>
<rect x="181.50" y="368.25" width="16.15" height="24.12" fill="#F8F6F9"/>
<rect x="197.65" y="368.25" width="16.15" height="24.12" fill="#F8F6F9"/>
<rect x="213.80" y="368.25" width="16.15" height="24.12" fill="#8A6FD6"/>
<rect x="229.95" y="368.25" width="16.15" height="24.12" fill="#8A6FD6"/>
<rect x="246.10" y="368.25" width="16.15" height="24.12" fill="#F8F6F9"/>
<rect x="262.25" y="368.25" width="16.15" height="24.12" fill="#F8F6F9"/>
<rect x="278.40" y="368.25" width="16.15" height="24.12" fill="#F8F6F9"/>
<rect x="294.55" y="368.25" width="16.15" height="24.12" fill="#F8F6F9"/>
<rect x="310.70" y="368.25" width="16.15" height="24.12" fill="#F8F6F9"/>
<rect x="326.85" y="368.25" width="16.15" height="24.12" fill="#F8F6F9"/>
<rect x="343.00" y="368.25" width="16.15" height="24.12" fill="#F8F6F9"/>
<rect x="359.15" y="368.25" width="16.15" height="24.12" fill="#F8F6F9"/>
<rect x="375.30" y="368.25" width="16.15" height="24.12" fill="#F8F6F9"/>
<rect x="391.45" y="368.25" width="16.15" height="24.12" fill="#F8F6F9"/>
<rect x="407.60" y="368.25" width="16.15" height="24.12" fill="#F8F6F9"/>
<rect x="423.75" y="368.25" width="16.15" height="24.12" fill="#F8F6F9"/>
<rect x="439.90" y="368.25" width="16.15" height="24.12" fill="#F8F6F9"/>
<rect x="456.05" y="368.25" width="16.15" height="24.12" fill="#8A6FD6"/>
<rect x="472.20" y="368.25" width="16.15" height="24.12" fill="#F8F6F9"/>
<rect x="488.35" y="368.25" width="16.15" height="24.12" fill="#F8F6F9"/>
<rect x="504.50" y="368.25" width="16.15" height="24.12" fill="#F8F6F9"/>
<rect x="520.65" y="368.25" width="16.15" height="24.12" fill="#F8F6F9"/>
<rect x="536.80" y="368.25" width="16.15" height="24.12" fill="#F8F6F9"/>
<rect x="552.95" y="368.25" width="16.15" height="24.12" fill="#F8F6F9"/>
<rect x="569.10" y="368.25" width="16.15" height="24.12" fill="#F8F6F9"/>
<rect x="585.25" y="368.25" width="16.15" height="24.12" fill="#F8F6F9"/>
<rect x="601.40" y="368.25" width="16.15" height="24.12" fill="#F8F6F9"/>
<rect x="617.55" y="368.25" width="16.15" height="24.12" fill="#F8F6F9"/>
<rect x="633.70" y="368.25" width="16.15" height="24.12" fill="#8A6FD6"/>
<rect x="649.85" y="368.25" width="16.15" height="24.12" fill="#F8F6F9"/>
<rect x="666.00" y="368.25" width="16.15" height="24.12" fill="#F8F6F9"/>
<rect x="682.15" y="368.25" width="16.15" height="24.12" fill="#F8F6F9"/>
<rect x="698.30" y="368.25" width="16.15" height="24.12" fill="#F8F6F9"/>
<rect x="714.45" y="368.25" width="16.15" height="24.12" fill="#F8F6F9"/>
<rect x="730.60" y="368.25" width="16.15" height="24.12" fill="#F8F6F9"/>
<rect x="746.75" y="368.25" width="16.15" height="24.12" fill="#F8F6F9"/>
<rect x="762.90" y="368.25" width="16.15" height="24.12" fill="#F8F6F9"/>
<rect x="779.05" y="368.25" width="16.15" height="24.12" fill="#F8F6F9"/>
<rect x="795.20" y="368.25" width="16.15" height="24.12" fill="#F8F6F9"/>
<rect x="811.35" y="368.25" width="16.15" height="24.12" fill="#F8F6F9"/>
<rect x="827.50" y="368.25" width="16.15" height="24.12" fill="#F8F6F9"/>
<rect x="843.65" y="368.25" width="16.15" height="24.12" fill="#F8F6F9"/>
<rect x="859.80" y="368.25" width="16.15" height="24.12" fill="#78B833"/>
<rect x="875.95" y="368.25" width="16.15" height="24.12" fill="#8A6FD6"/>
<rect x="892.10" y="368.25" width="16.15" height="24.12" fill="#F8F6F9"/>
<rect x="908.25" y="368.25" width="16.15" height="24.12" fill="#8A6FD6"/>
<rect x="924.40" y="368.25" width="16.15" height="24.12" fill="#8A6FD6"/>
<rect x="940.55" y="368.25" width="16.15" height="24.12" fill="#F8F6F9"/>
<rect x="956.70" y="368.25" width="16.15" height="24.12" fill="#8A6FD6"/>
<rect x="972.85" y="368.25" width="16.15" height="24.12" fill="#F8F6F9"/>
<rect x="989.00" y="368.25" width="16.15" height="24.12" fill="#F8F6F9"/>
<rect x="1005.15" y="368.25" width="16.15" height="24.12" fill="#8A6FD6"/>
<rect x="1021.30" y="368.25" width="16.15" height="24.12" fill="#F8F6F9"/>
<rect x="1037.45" y="368.25" width="16.15" height="24.12" fill="#F8F6F9"/>
<rect x="1053.60" y="368.25" width="16.15" height="24.12" fill="#F8F6F9"/>
<rect x="1069.75" y="368.25" width="16.15" height="24.12" fill="#F8F6F9"/>
<rect x="1085.90" y="368.25" width="16.15" height="24.12" fill="#F8F6F9"/>
<rect x="1102.05" y="368.25" width="16.15" height="24.12" fill="#F8F6F9"/>
<rect x="1118.20" y="368.25" width="16.15" height="24.12" fill="#F8F6F9"/>
<rect x="1134.35" y="368.25" width="16.15" height="24.12" fill="#F8F6F9"/>
<rect x="1150.50" y="368.25" width="16.15" height="24.12" fill="#8A6FD6"/>
<rect x="1166.65" y="368.25" width="16.15" height="24.12" fill="#78B833"/>
<rect x="1182.80" y="368.25" width="16.15" height="24.12" fill="#F8F6F9"/>
<rect x="1198.95" y="368.25" width="16.15" height="24.12" fill="#F8F6F9"/>
<rect x="1215.10" y="368.25" width="16.15" height="24.12" fill="#F8F6F9"/>
<rect x="1231.25" y="368.25" width="16.15" height="24.12" fill="#F8F6F9"/>
<rect x="1247.40" y="368.25" width="16.15" height="24.12" fill="#F8F6F9"/>
<rect x="1263.55" y="368.25" width="16.15" height="24.12" fill="#F8F6F9"/>
<rect x="1279.70" y="368.25" width="16.15" height="24.12" fill="#F8F6F9"/>
<rect x="1295.85" y="368.25" width="16.15" height="24.12" fill="#F8F6F9"/>
<rect x="1312.00" y="368.25" width="16.15" height="24.12" fill="#F8F6F9"/>
<rect x="1328.15" y="368.25" width="16.15" height="24.12" fill="#F8F6F9"/>
<rect x="1344.30" y="368.25" width="16.15" height="24.12" fill="#F8F6F9"/>
<rect x="1360.45" y="368.25" width="16.15" height="24.12" fill="#F8F6F9"/>
<rect x="1376.60" y="368.25" width="16.15" height="24.12" fill="#00AEEF"/>
<rect x="1392.75" y="368.25" width="16.15" height="24.12" fill="#00AEEF"/>
<rect x="1408.90" y="368.25" width="16.15" height="24.12" fill="#00AEEF"/>
<rect x="1425.05" y="368.25" width="16.15" height="24.12" fill="#00AEEF"/>
<rect x="1441.20" y="368.25" width="16.15" height="24.12" fill="#00AEEF"/>
<rect x="1457.35" y="368.25" width="16.15" height="24.12" fill="#F8F6F9"/>
<rect x="1473.50" y="368.25" width="16.15" height="24.12" fill="#00AEEF"/>
<rect x="1489.65" y="368.25" width="16.15" height="24.12" fill="#00AEEF"/>
<rect x="1505.80" y="368.25" width="16.15" height="24.12" fill="#F8F6F9"/>
<rect x="1521.95" y="368.25" width="16.15" height="24.12" fill="#00AEEF"/>
<rect x="1538.10" y="368.25" width="16.15" height="24.12" fill="#F8F6F9"/>
<rect x="1554.25" y="368.25" width="16.15" height="24.12" fill="#F8F6F9"/>
<rect x="1570.40" y="368.25" width="16.15" height="24.12" fill="#00AEEF"/>
<rect x="1586.55" y="368.25" width="16.15" height="24.12" fill="#00AEEF"/>
<rect x="1602.70" y="368.25" width="16.15" height="24.12" fill="#F8F6F9"/>
<rect x="1618.85" y="368.25" width="16.15" height="24.12" fill="#00AEEF"/>
<rect x="1635.00" y="368.25" width="16.15" height="24.12" fill="#F8F6F9"/>
<rect x="1651.15" y="368.25" width="16.15" height="24.12" fill="#00AEEF"/>
<rect x="1667.30" y="368.25" width="16.15" height="24.12" fill="#00AEEF"/>
<rect x="1683.45" y="368.25" width="16.15" height="24.12" fill="#00AEEF"/>
<rect x="1699.60" y="368.25" width="16.15" height="24.12" fill="#F8F6F9"/>
<rect x="1715.75" y="368.25" width="16.15" height="24.12" fill="#F8F6F9"/>
<rect x="1731.90" y="368.25" width="16.15" height="24.12" fill="#F8F6F9"/>
<rect x="1748.05" y="368.25" width="16.15" height="24.12" fill="#00AEEF"/>
<rect x="1764.20" y="368.25" width="16.15" height="24.12" fill="#F8F6F9"/>
<rect x="1780.35" y="368.25" width="16.15" height="24.12" fill="#F8F6F9"/>
<rect x="181.50" y="392.38" width="16.15" height="24.12" fill="#F8F6F9"/>
<rect x="197.65" y="392.38" width="16.15" height="24.12" fill="#F8F6F9"/>
<rect x="213.80" y="392.38" width="16.15" height="24.12" fill="#F4FF00"/>
<rect x="229.95" y="392.38" width="16.15" height="24.12" fill="#F4FF00"/>
<rect x="246.10" y="392.38" width="16.15" height="24.12" fill="#F8F6F9"/>
<rect x="262.25" y="392.38" width="16.15" height="24.12" fill="#F8F6F9"/>
<rect x="278.40" y="392.38" width="16.15" height="24.12" fill="#F8F6F9"/>
<rect x="294.55" y="392.38" width="16.15" height="24.12" fill="#F8F6F9"/>
<rect x="310.70" y="392.38" width="16.15" height="24.12" fill="#F8F6F9"/>
<rect x="326.85" y="392.38" width="16.15" height="24.12" fill="#F8F6F9"/>
<rect x="343.00" y="392.38" width="16.15" height="24.12" fill="#F8F6F9"/>
<rect x="359.15" y="392.38" width="16.15" height="24.12" fill="#F8F6F9"/>
<rect x="375.30" y="392.38" width="16.15" height="24.12" fill="#F8F6F9"/>
<rect x="391.45" y="392.38" width="16.15" height="24.12" fill="#F8F6F9"/>
<rect x="407.60" y="392.38" width="16.15" height="24.12" fill="#F8F6F9"/>
<rect x="423.75" y="392.38" width="16.15" height="24.12" fill="#F8F6F9"/>
<rect x="439.90" y="392.38" width="16.15" height="24.12" fill="#F8F6F9"/>
<rect x="456.05" y="392.38" width="16.15" height="24.12" fill="#F4FF00"/>
<rect x="472.20" y="392.38" width="16.15" height="24.12" fill="#F8F6F9"/>
<rect x="488.35" y="392.38" width="16.15" height="24.12" fill="#F8F6F9"/>
<rect x="504.50" y="392.38" width="16.15" height="24.12" fill="#F8F6F9"/>
<rect x="520.65" y="392.38" width="16.15" height="24.12" fill="#F8F6F9"/>
<rect x="536.80" y="392.38" width="16.15" height="24.12" fill="#F8F6F9"/>
<rect x="552.95" y="392.38" width="16.15" height="24.12" fill="#F8F6F9"/>
<rect x="569.10" y="392.38" width="16.15" height="24.12" fill="#F8F6F9"/>
<rect x="585.25" y="392.38" width="16.15" height="24.12" fill="#F8F6F9"/>
<rect x="601.40" y="392.38" width="16.15" height="24.12" fill="#F8F6F9"/>
<rect x="617.55" y="392.38" width="16.15" height="24.12" fill="#F8F6F9"/>
<rect x="633.70" y="392.38" width="16.15" height="24.12" fill="#F4FF00"/>
<rect x="649.85" y="392.38" width="16.15" height="24.12" fill="#F8F6F9"/>
<rect x="666.00" y="392.38" width="16.15" height="24.12" fill="#F8F6F9"/>
<rect x="682.15" y="392.38" width="16.15" height="24.12" fill="#F8F6F9"/>
<rect x="698.30" y="392.38" width="16.15" height="24.12" fill="#F8F6F9"/>
<rect x="714.45" y="392.38" width="16.15" height="24.12" fill="#F8F6F9"/>
<rect x="730.60" y="392.38" width="16.15" height="24.12" fill="#F8F6F9"/>
<rect x="746.75" y="392.38" width="16.15" height="24.12" fill="#F8F6F9"/>
<rect x="762.90" y="392.38" width="16.15" height="24.12" fill="#F8F6F9"/>
<rect x="779.05" y="392.38" width="16.15" height="24.12" fill="#F8F6F9"/>
<rect x="795.20" y="392.38" width="16.15" height="24.12" fill="#F8F6F9"/>
<rect x="811.35" y="392.38" width="16.15" height="24.12" fill="#F8F6F9"/>
<rect x="827.50" y="392.38" width="16.15" height="24.12" fill="#F8F6F9"/>
<rect x="843.65" y="392.38" width="16.15" height="24.12" fill="#F8F6F9"/>
<rect x="859.80" y="392.38" width="16.15" height="24.12" fill="#B0F000"/>
<rect x="875.95" y="392.38" width="16.15" height="24.12" fill="#F4FF00"/>
<rect x="892.10" y="392.38" width="16.15" height="24.12" fill="#F8F6F9"/>
<rect x="908.25" y="392.38" width="16.15" height="24.12" fill="#F4FF00"/>
<rect x="924.40" y="392.38" width="16.15" height="24.12" fill="#F4FF00"/>
<rect x="940.55" y="392.38" width="16.15" height="24.12" fill="#F8F6F9"/>
<rect x="956.70" y="392.38" width="16.15" height="24.12" fill="#F4FF00"/>
<rect x="972.85" y="392.38" width="16.15" height="24.12" fill="#F8F6F9"/>
<rect x="989.00" y="392.38" width="16.15" height="24.12" fill="#F8F6F9"/>
<rect x="1005.15" y="392.38" width="16.15" height="24.12" fill="#F4FF00"/>
<rect x="1021.30" y="392.38" width="16.15" height="24.12" fill="#F8F6F9"/>
<rect x="1037.45" y="392.38" width="16.15" height="24.12" fill="#F8F6F9"/>
<rect x="1053.60" y="392.38" width="16.15" height="24.12" fill="#F8F6F9"/>
<rect x="1069.75" y="392.38" width="16.15" height="24.12" fill="#F8F6F9"/>
<rect x="1085.90" y="392.38" width="16.15" height="24.12" fill="#F8F6F9"/>
<rect x="1102.05" y="392.38" width="16.15" height="24.12" fill="#F8F6F9"/>
<rect x="1118.20" y="392.38" width="16.15" height="24.12" fill="#F8F6F9"/>
<rect x="1134.35" y="392.38" width="16.15" height="24.12" fill="#F8F6F9"/>
<rect x="1150.50" y="392.38" width="16.15" height="24.12" fill="#B0F000"/>
<rect x="1166.65" y="392.38" width="16.15" height="24.12" fill="#B0F000"/>
<rect x="1182.80" y="392.38" width="16.15" height="24.12" fill="#F8F6F9"/>
<rect x="1198.95" y="392.38" width="16.15" height="24.12" fill="#F8F6F9"/>
<rect x="1215.10" y="392.38" width="16.15" height="24.12" fill="#F8F6F9"/>
<rect x="1231.25" y="392.38" width="16.15" height="24.12" fill="#F8F6F9"/>
<rect x="1247.40" y="392.38" width="16.15" height="24.12" fill="#F8F6F9"/>
<rect x="1263.55" y="392.38" width="16.15" height="24.12" fill="#F8F6F9"/>
<rect x="1279.70" y="392.38" width="16.15" height="24.12" fill="#F8F6F9"/>
<rect x="1295.85" y="392.38" width="16.15" height="24.12" fill="#F8F6F9"/>
<rect x="1312.00" y="392.38" width="16.15" height="24.12" fill="#F8F6F9"/>
<rect x="1328.15" y="392.38" width="16.15" height="24.12" fill="#F8F6F9"/>
<rect x="1344.30" y="392.38" width="16.15" height="24.12" fill="#F8F6F9"/>
<rect x="1360.45" y="392.38" width="16.15" height="24.12" fill="#F8F6F9"/>
<rect x="1376.60" y="392.38" width="16.15" height="24.12" fill="#00AEEF"/>
<rect x="1392.75" y="392.38" width="16.15" height="24.12" fill="#00AEEF"/>
<rect x="1408.90" y="392.38" width="16.15" height="24.12" fill="#00AEEF"/>
<rect x="1425.05" y="392.38" width="16.15" height="24.12" fill="#00AEEF"/>
<rect x="1441.20" y="392.38" width="16.15" height="24.12" fill="#00AEEF"/>
<rect x="1457.35" y="392.38" width="16.15" height="24.12" fill="#F8F6F9"/>
<rect x="1473.50" y="392.38" width="16.15" height="24.12" fill="#00AEEF"/>
<rect x="1489.65" y="392.38" width="16.15" height="24.12" fill="#00AEEF"/>
<rect x="1505.80" y="392.38" width="16.15" height="24.12" fill="#F8F6F9"/>
<rect x="1521.95" y="392.38" width="16.15" height="24.12" fill="#00AEEF"/>
<rect x="1538.10" y="392.38" width="16.15" height="24.12" fill="#F8F6F9"/>
<rect x="1554.25" y="392.38" width="16.15" height="24.12" fill="#F8F6F9"/>
<rect x="1570.40" y="392.38" width="16.15" height="24.12" fill="#00AEEF"/>
<rect x="1586.55" y="392.38" width="16.15" height="24.12" fill="#00AEEF"/>
<rect x="1602.70" y="392.38" width="16.15" height="24.12" fill="#F8F6F9"/>
<rect x="1618.85" y="392.38" width="16.15" height="24.12" fill="#00AEEF"/>
<rect x="1635.00" y="392.38" width="16.15" height="24.12" fill="#F8F6F9"/>
<rect x="1651.15" y="392.38" width="16.15" height="24.12" fill="#00AEEF"/>
<rect x="1667.30" y="392.38" width="16.15" height="24.12" fill="#00AEEF"/>
<rect x="1683.45" y="392.38" width="16.15" height="24.12" fill="#00AEEF"/>
<rect x="1699.60" y="392.38" width="16.15" height="24.12" fill="#F8F6F9"/>
<rect x="1715.75" y="392.38" width="16.15" height="24.12" fill="#F8F6F9"/>
<rect x="1731.90" y="392.38" width="16.15" height="24.12" fill="#F8F6F9"/>
<rect x="1748.05" y="392.38" width="16.15" height="24.12" fill="#00AEEF"/>
<rect x="1764.20" y="392.38" width="16.15" height="24.12" fill="#F8F6F9"/>
<rect x="1780.35" y="392.38" width="16.15" height="24.12" fill="#F8F6F9"/>
</g>
<g fill="#000">
<path d="M212.78 201.5 L227.78 201.5 L220.28 223.5 Z"/>
<path d="M228.92 201.5 L243.92 201.5 L236.42 223.5 Z"/>
<path d="M455.02 201.5 L470.02 201.5 L462.52 223.5 Z"/>
<path d="M632.67 201.5 L647.67 201.5 L640.17 223.5 Z"/>
<path d="M858.77 201.5 L873.77 201.5 L866.27 223.5 Z"/>
<path d="M874.92 201.5 L889.92 201.5 L882.42 223.5 Z"/>
<path d="M907.22 201.5 L922.22 201.5 L914.72 223.5 Z"/>
<path d="M923.37 201.5 L938.37 201.5 L930.87 223.5 Z"/>
<path d="M955.67 201.5 L970.67 201.5 L963.17 223.5 Z"/>
<path d="M1004.12 201.5 L1019.12 201.5 L1011.62 223.5 Z"/>
<path d="M1149.47 201.5 L1164.47 201.5 L1156.97 223.5 Z"/>
<path d="M1165.62 201.5 L1180.62 201.5 L1173.12 223.5 Z"/>
<path d="M1375.58 201.5 L1390.58 201.5 L1383.08 223.5 Z"/>
<path d="M1391.72 201.5 L1406.72 201.5 L1399.22 223.5 Z"/>
<path d="M1407.88 201.5 L1422.88 201.5 L1415.38 223.5 Z"/>
<path d="M1424.03 201.5 L1439.03 201.5 L1431.53 223.5 Z"/>
<path d="M1440.17 201.5 L1455.17 201.5 L1447.67 223.5 Z"/>
<path d="M1472.47 201.5 L1487.47 201.5 L1479.97 223.5 Z"/>
<path d="M1488.62 201.5 L1503.62 201.5 L1496.12 223.5 Z"/>
<path d="M1520.92 201.5 L1535.92 201.5 L1528.42 223.5 Z"/>
<path d="M1569.38 201.5 L1584.38 201.5 L1576.88 223.5 Z"/>
<path d="M1585.52 201.5 L1600.52 201.5 L1593.02 223.5 Z"/>
<path d="M1617.83 201.5 L1632.83 201.5 L1625.33 223.5 Z"/>
<path d="M1650.12 201.5 L1665.12 201.5 L1657.62 223.5 Z"/>
<path d="M1666.27 201.5 L1681.27 201.5 L1673.77 223.5 Z"/>
<path d="M1682.42 201.5 L1697.42 201.5 L1689.92 223.5 Z"/>
<path d="M1747.02 201.5 L1762.02 201.5 L1754.52 223.5 Z"/>
</g>
<g font-size="13.9">
<text x="-0.30" y="23.09" textLength="173.2" lengthAdjust="spacing">Lauren.classification.Patient</text>
<text x="57.60" y="47.29" textLength="115.3" lengthAdjust="spacing">MSI.status.Patient</text>
<text x="52.90" y="71.47" textLength="120.0" lengthAdjust="spacing">EBV.status.Patient</text>
<text x="16.90" y="95.67" textLength="156.0" lengthAdjust="spacing">CDH1.expression.Patient</text>
<text x="13.60" y="119.86" textLength="159.3" lengthAdjust="spacing">Proliferation.score.Patient</text>
<text x="31.60" y="144.05" textLength="141.3" lengthAdjust="spacing">TP53.activation.Patient</text>
<text x="4.50" y="168.24" textLength="168.4" lengthAdjust="spacing">TCGA.classification.Patient</text>
<text x="1.90" y="192.43" textLength="171.0" lengthAdjust="spacing">ACRG.classification.Patient</text>
<text x="14.20" y="240.70" textLength="161.0" lengthAdjust="spacing">Lauren.Classification.PDX</text>
<text x="74.90" y="264.90" textLength="100.3" lengthAdjust="spacing">MSI.status.PDX</text>
<text x="70.30" y="289.10" textLength="104.9" lengthAdjust="spacing">EBV.status.PDX</text>
<text x="35.00" y="313.30" textLength="140.2" lengthAdjust="spacing">CDH1.expression.PDX</text>
<text x="31.30" y="337.50" textLength="143.9" lengthAdjust="spacing">Proliferation.score.PDX</text>
<text x="49.30" y="361.70" textLength="125.9" lengthAdjust="spacing">TP53.activation.PDX</text>
<text x="21.40" y="385.90" textLength="153.8" lengthAdjust="spacing">TCGA.classification.PDX</text>
<text x="19.80" y="410.10" textLength="155.4" lengthAdjust="spacing">ACRG.classification.PDX</text>
</g>
<g stroke="#444" stroke-width="1">
<line x1="175.9" x2="179.7" y1="17.59" y2="17.59"/>
<line x1="176.0" x2="180.0" y1="235.56" y2="235.56"/>
<line x1="175.9" x2="179.7" y1="41.79" y2="41.79"/>
<line x1="176.0" x2="180.0" y1="259.69" y2="259.69"/>
<line x1="175.9" x2="179.7" y1="65.97" y2="65.97"/>
<line x1="176.0" x2="180.0" y1="283.81" y2="283.81"/>
<line x1="175.9" x2="179.7" y1="90.17" y2="90.17"/>
<line x1="176.0" x2="180.0" y1="307.94" y2="307.94"/>
<line x1="175.9" x2="179.7" y1="114.36" y2="114.36"/>
<line x1="176.0" x2="180.0" y1="332.06" y2="332.06"/>
<line x1="175.9" x2="179.7" y1="138.55" y2="138.55"/>
<line x1="176.0" x2="180.0" y1="356.19" y2="356.19"/>
<line x1="175.9" x2="179.7" y1="162.74" y2="162.74"/>
<line x1="176.0" x2="180.0" y1="380.31" y2="380.31"/>
<line x1="175.9" x2="179.7" y1="186.93" y2="186.93"/>
<line x1="176.0" x2="180.0" y1="404.44" y2="404.44"/>
<line x1="189.60" x2="189.60" y1="420" y2="423"/>
<line x1="205.74" x2="205.74" y1="420" y2="423"/>
<line x1="221.89" x2="221.89" y1="420" y2="423"/>
<line x1="238.03" x2="238.03" y1="420" y2="423"/>
<line x1="254.17" x2="254.17" y1="420" y2="423"/>
<line x1="270.31" x2="270.31" y1="420" y2="423"/>
<line x1="286.46" x2="286.46" y1="420" y2="423"/>
<line x1="302.60" x2="302.60" y1="420" y2="423"/>
<line x1="318.74" x2="318.74" y1="420" y2="423"/>
<line x1="334.89" x2="334.89" y1="420" y2="423"/>
<line x1="351.03" x2="351.03" y1="420" y2="423"/>
<line x1="367.17" x2="367.17" y1="420" y2="423"/>
<line x1="383.32" x2="383.32" y1="420" y2="423"/>
<line x1="399.46" x2="399.46" y1="420" y2="423"/>
<line x1="415.60" x2="415.60" y1="420" y2="423"/>
<line x1="431.75" x2="431.75" y1="420" y2="423"/>
<line x1="447.89" x2="447.89" y1="420" y2="423"/>
<line x1="464.03" x2="464.03" y1="420" y2="423"/>
<line x1="480.17" x2="480.17" y1="420" y2="423"/>
<line x1="496.32" x2="496.32" y1="420" y2="423"/>
<line x1="512.46" x2="512.46" y1="420" y2="423"/>
<line x1="528.60" x2="528.60" y1="420" y2="423"/>
<line x1="544.75" x2="544.75" y1="420" y2="423"/>
<line x1="560.89" x2="560.89" y1="420" y2="423"/>
<line x1="577.03" x2="577.03" y1="420" y2="423"/>
<line x1="593.18" x2="593.18" y1="420" y2="423"/>
<line x1="609.32" x2="609.32" y1="420" y2="423"/>
<line x1="625.46" x2="625.46" y1="420" y2="423"/>
<line x1="641.60" x2="641.60" y1="420" y2="423"/>
<line x1="657.75" x2="657.75" y1="420" y2="423"/>
<line x1="673.89" x2="673.89" y1="420" y2="423"/>
<line x1="690.03" x2="690.03" y1="420" y2="423"/>
<line x1="706.18" x2="706.18" y1="420" y2="423"/>
<line x1="722.32" x2="722.32" y1="420" y2="423"/>
<line x1="738.46" x2="738.46" y1="420" y2="423"/>
<line x1="754.61" x2="754.61" y1="420" y2="423"/>
<line x1="770.75" x2="770.75" y1="420" y2="423"/>
<line x1="786.89" x2="786.89" y1="420" y2="423"/>
<line x1="803.03" x2="803.03" y1="420" y2="423"/>
<line x1="819.18" x2="819.18" y1="420" y2="423"/>
<line x1="835.32" x2="835.32" y1="420" y2="423"/>
<line x1="851.46" x2="851.46" y1="420" y2="423"/>
<line x1="867.61" x2="867.61" y1="420" y2="423"/>
<line x1="883.75" x2="883.75" y1="420" y2="423"/>
<line x1="899.89" x2="899.89" y1="420" y2="423"/>
<line x1="916.04" x2="916.04" y1="420" y2="423"/>
<line x1="932.18" x2="932.18" y1="420" y2="423"/>
<line x1="948.32" x2="948.32" y1="420" y2="423"/>
<line x1="964.46" x2="964.46" y1="420" y2="423"/>
<line x1="980.61" x2="980.61" y1="420" y2="423"/>
<line x1="996.75" x2="996.75" y1="420" y2="423"/>
<line x1="1012.89" x2="1012.89" y1="420" y2="423"/>
<line x1="1029.04" x2="1029.04" y1="420" y2="423"/>
<line x1="1045.18" x2="1045.18" y1="420" y2="423"/>
<line x1="1061.32" x2="1061.32" y1="420" y2="423"/>
<line x1="1077.46" x2="1077.46" y1="420" y2="423"/>
<line x1="1093.61" x2="1093.61" y1="420" y2="423"/>
<line x1="1109.75" x2="1109.75" y1="420" y2="423"/>
<line x1="1125.89" x2="1125.89" y1="420" y2="423"/>
<line x1="1142.04" x2="1142.04" y1="420" y2="423"/>
<line x1="1158.18" x2="1158.18" y1="420" y2="423"/>
<line x1="1174.32" x2="1174.32" y1="420" y2="423"/>
<line x1="1190.47" x2="1190.47" y1="420" y2="423"/>
<line x1="1206.61" x2="1206.61" y1="420" y2="423"/>
<line x1="1222.75" x2="1222.75" y1="420" y2="423"/>
<line x1="1238.89" x2="1238.89" y1="420" y2="423"/>
<line x1="1255.04" x2="1255.04" y1="420" y2="423"/>
<line x1="1271.18" x2="1271.18" y1="420" y2="423"/>
<line x1="1287.32" x2="1287.32" y1="420" y2="423"/>
<line x1="1303.47" x2="1303.47" y1="420" y2="423"/>
<line x1="1319.61" x2="1319.61" y1="420" y2="423"/>
<line x1="1335.75" x2="1335.75" y1="420" y2="423"/>
<line x1="1351.90" x2="1351.90" y1="420" y2="423"/>
<line x1="1368.04" x2="1368.04" y1="420" y2="423"/>
<line x1="1384.18" x2="1384.18" y1="420" y2="423"/>
<line x1="1400.33" x2="1400.33" y1="420" y2="423"/>
<line x1="1416.47" x2="1416.47" y1="420" y2="423"/>
<line x1="1432.61" x2="1432.61" y1="420" y2="423"/>
<line x1="1448.75" x2="1448.75" y1="420" y2="423"/>
<line x1="1464.90" x2="1464.90" y1="420" y2="423"/>
<line x1="1481.04" x2="1481.04" y1="420" y2="423"/>
<line x1="1497.18" x2="1497.18" y1="420" y2="423"/>
<line x1="1513.33" x2="1513.33" y1="420" y2="423"/>
<line x1="1529.47" x2="1529.47" y1="420" y2="423"/>
<line x1="1545.61" x2="1545.61" y1="420" y2="423"/>
<line x1="1561.75" x2="1561.75" y1="420" y2="423"/>
<line x1="1577.90" x2="1577.90" y1="420" y2="423"/>
<line x1="1594.04" x2="1594.04" y1="420" y2="423"/>
<line x1="1610.18" x2="1610.18" y1="420" y2="423"/>
<line x1="1626.33" x2="1626.33" y1="420" y2="423"/>
<line x1="1642.47" x2="1642.47" y1="420" y2="423"/>
<line x1="1658.61" x2="1658.61" y1="420" y2="423"/>
<line x1="1674.76" x2="1674.76" y1="420" y2="423"/>
<line x1="1690.90" x2="1690.90" y1="420" y2="423"/>
<line x1="1707.04" x2="1707.04" y1="420" y2="423"/>
<line x1="1723.18" x2="1723.18" y1="420" y2="423"/>
<line x1="1739.33" x2="1739.33" y1="420" y2="423"/>
<line x1="1755.47" x2="1755.47" y1="420" y2="423"/>
<line x1="1771.61" x2="1771.61" y1="420" y2="423"/>
<line x1="1787.76" x2="1787.76" y1="420" y2="423"/>
</g>
<g font-size="13">
<text transform="translate(193.78 492.9) rotate(-90)" textLength="64.9" lengthAdjust="spacing">GXA_3017</text>
<text transform="translate(209.92 492.9) rotate(-90)" textLength="64.9" lengthAdjust="spacing">GXA_3016</text>
<text transform="translate(226.07 492.9) rotate(-90)" textLength="64.9" lengthAdjust="spacing">GXA_3012</text>
<text transform="translate(242.21 492.9) rotate(-90)" textLength="64.9" lengthAdjust="spacing">GXA_3013</text>
<text transform="translate(258.35 492.9) rotate(-90)" textLength="64.9" lengthAdjust="spacing">GXA_3088</text>
<text transform="translate(274.50 492.9) rotate(-90)" textLength="64.9" lengthAdjust="spacing">GXA_3009</text>
<text transform="translate(290.64 492.9) rotate(-90)" textLength="64.9" lengthAdjust="spacing">GXA_3045</text>
<text transform="translate(306.78 492.9) rotate(-90)" textLength="64.9" lengthAdjust="spacing">GXA_3082</text>
<text transform="translate(322.92 492.9) rotate(-90)" textLength="64.9" lengthAdjust="spacing">GXA_3094</text>
<text transform="translate(339.07 492.9) rotate(-90)" textLength="64.9" lengthAdjust="spacing">GXA_3099</text>
<text transform="translate(355.21 492.9) rotate(-90)" textLength="64.9" lengthAdjust="spacing">GXA_3004</text>
<text transform="translate(371.35 492.9) rotate(-90)" textLength="64.9" lengthAdjust="spacing">GXA_3093</text>
<text transform="translate(387.50 492.9) rotate(-90)" textLength="64.9" lengthAdjust="spacing">GXA_3065</text>
<text transform="translate(403.64 492.9) rotate(-90)" textLength="64.9" lengthAdjust="spacing">GXA_3062</text>
<text transform="translate(419.78 492.9) rotate(-90)" textLength="64.9" lengthAdjust="spacing">GXA_3046</text>
<text transform="translate(435.93 492.9) rotate(-90)" textLength="64.9" lengthAdjust="spacing">GXA_3021</text>
<text transform="translate(452.07 492.9) rotate(-90)" textLength="64.9" lengthAdjust="spacing">GXA_3041</text>
<text transform="translate(468.21 492.9) rotate(-90)" textLength="64.9" lengthAdjust="spacing">GXA_3067</text>
<text transform="translate(484.35 492.9) rotate(-90)" textLength="64.9" lengthAdjust="spacing">GXA_3058</text>
<text transform="translate(500.50 492.9) rotate(-90)" textLength="64.9" lengthAdjust="spacing">GXA_3051</text>
<text transform="translate(516.64 492.9) rotate(-90)" textLength="64.9" lengthAdjust="spacing">GXA_3019</text>
<text transform="translate(532.78 492.9) rotate(-90)" textLength="64.9" lengthAdjust="spacing">GXA_3061</text>
<text transform="translate(548.93 492.9) rotate(-90)" textLength="64.9" lengthAdjust="spacing">GXA_3018</text>
<text transform="translate(565.07 492.9) rotate(-90)" textLength="64.9" lengthAdjust="spacing">GXA_3000</text>
<text transform="translate(581.21 492.9) rotate(-90)" textLength="64.9" lengthAdjust="spacing">GXA_3050</text>
<text transform="translate(597.36 492.9) rotate(-90)" textLength="64.9" lengthAdjust="spacing">GXA_3048</text>
<text transform="translate(613.50 492.9) rotate(-90)" textLength="64.9" lengthAdjust="spacing">GXA_3053</text>
<text transform="translate(629.64 492.9) rotate(-90)" textLength="64.9" lengthAdjust="spacing">GXA_3055</text>
<text transform="translate(645.78 492.9) rotate(-90)" textLength="64.9" lengthAdjust="spacing">GXA_3039</text>
<text transform="translate(661.93 492.9) rotate(-90)" textLength="64.9" lengthAdjust="spacing">GXA_3075</text>
<text transform="translate(678.07 492.9) rotate(-90)" textLength="64.9" lengthAdjust="spacing">GXA_3098</text>
<text transform="translate(694.21 492.9) rotate(-90)" textLength="64.9" lengthAdjust="spacing">GXA_3089</text>
<text transform="translate(710.36 492.9) rotate(-90)" textLength="64.9" lengthAdjust="spacing">GXA_3076</text>
<text transform="translate(726.50 492.9) rotate(-90)" textLength="64.9" lengthAdjust="spacing">GXA_3070</text>
<text transform="translate(742.64 492.9) rotate(-90)" textLength="64.9" lengthAdjust="spacing">GXA_3068</text>
<text transform="translate(758.78 492.9) rotate(-90)" textLength="64.9" lengthAdjust="spacing">GXA_3066</text>
<text transform="translate(774.93 492.9) rotate(-90)" textLength="64.9" lengthAdjust="spacing">GXA_3032</text>
<text transform="translate(791.07 492.9) rotate(-90)" textLength="64.9" lengthAdjust="spacing">GXA_3028</text>
<text transform="translate(807.21 492.9) rotate(-90)" textLength="64.9" lengthAdjust="spacing">GXA_3022</text>
<text transform="translate(823.36 492.9) rotate(-90)" textLength="64.9" lengthAdjust="spacing">GXA_3097</text>
<text transform="translate(839.50 492.9) rotate(-90)" textLength="64.9" lengthAdjust="spacing">GXA_3074</text>
<text transform="translate(855.64 492.9) rotate(-90)" textLength="64.9" lengthAdjust="spacing">GXA_3073</text>
<text transform="translate(871.79 492.9) rotate(-90)" textLength="64.9" lengthAdjust="spacing">GXA_3080</text>
<text transform="translate(887.93 492.9) rotate(-90)" textLength="64.9" lengthAdjust="spacing">GXA_3063</text>
<text transform="translate(904.07 492.9) rotate(-90)" textLength="64.9" lengthAdjust="spacing">GXA_3060</text>
<text transform="translate(920.22 492.9) rotate(-90)" textLength="64.9" lengthAdjust="spacing">GXA_3040</text>
<text transform="translate(936.36 492.9) rotate(-90)" textLength="64.9" lengthAdjust="spacing">GXA_3029</text>
<text transform="translate(952.50 492.9) rotate(-90)" textLength="64.9" lengthAdjust="spacing">GXA_3006</text>
<text transform="translate(968.64 492.9) rotate(-90)" textLength="64.9" lengthAdjust="spacing">GXA_3084</text>
<text transform="translate(984.79 492.9) rotate(-90)" textLength="64.9" lengthAdjust="spacing">GXA_3014</text>
<text transform="translate(1000.93 492.9) rotate(-90)" textLength="64.9" lengthAdjust="spacing">GXA_3085</text>
<text transform="translate(1017.07 492.9) rotate(-90)" textLength="64.9" lengthAdjust="spacing">GXA_3038</text>
<text transform="translate(1033.22 492.9) rotate(-90)" textLength="64.9" lengthAdjust="spacing">GXA_3092</text>
<text transform="translate(1049.36 492.9) rotate(-90)" textLength="64.9" lengthAdjust="spacing">GXA_3059</text>
<text transform="translate(1065.50 492.9) rotate(-90)" textLength="64.9" lengthAdjust="spacing">GXA_3049</text>
<text transform="translate(1081.64 492.9) rotate(-90)" textLength="64.9" lengthAdjust="spacing">GXA_3086</text>
<text transform="translate(1097.79 492.9) rotate(-90)" textLength="64.9" lengthAdjust="spacing">GXA_3034</text>
<text transform="translate(1113.93 492.9) rotate(-90)" textLength="64.9" lengthAdjust="spacing">GXA_3030</text>
<text transform="translate(1130.07 492.9) rotate(-90)" textLength="64.9" lengthAdjust="spacing">GXA_3008</text>
<text transform="translate(1146.22 492.9) rotate(-90)" textLength="64.9" lengthAdjust="spacing">GXA_3042</text>
<text transform="translate(1162.36 492.9) rotate(-90)" textLength="64.9" lengthAdjust="spacing">GXA_3054</text>
<text transform="translate(1178.50 492.9) rotate(-90)" textLength="64.9" lengthAdjust="spacing">GXA_3027</text>
<text transform="translate(1194.65 492.9) rotate(-90)" textLength="64.9" lengthAdjust="spacing">GXA_3001</text>
<text transform="translate(1210.79 492.9) rotate(-90)" textLength="64.9" lengthAdjust="spacing">GXA_3010</text>
<text transform="translate(1226.93 492.9) rotate(-90)" textLength="64.9" lengthAdjust="spacing">GXA_3056</text>
<text transform="translate(1243.08 492.9) rotate(-90)" textLength="64.9" lengthAdjust="spacing">GXA_3033</text>
<text transform="translate(1259.22 492.9) rotate(-90)" textLength="64.9" lengthAdjust="spacing">GXA_3071</text>
<text transform="translate(1275.36 492.9) rotate(-90)" textLength="64.9" lengthAdjust="spacing">GXA_3077</text>
<text transform="translate(1291.50 492.9) rotate(-90)" textLength="64.9" lengthAdjust="spacing">GXA_3081</text>
<text transform="translate(1307.65 492.9) rotate(-90)" textLength="64.9" lengthAdjust="spacing">GXA_3047</text>
<text transform="translate(1323.79 492.9) rotate(-90)" textLength="64.9" lengthAdjust="spacing">GXA_3035</text>
<text transform="translate(1339.93 492.9) rotate(-90)" textLength="64.9" lengthAdjust="spacing">GXA_3003</text>
<text transform="translate(1356.08 492.9) rotate(-90)" textLength="64.9" lengthAdjust="spacing">GXA_3043</text>
<text transform="translate(1372.22 492.9) rotate(-90)" textLength="64.9" lengthAdjust="spacing">GXA_3072</text>
<text transform="translate(1388.36 492.9) rotate(-90)" textLength="64.9" lengthAdjust="spacing">GXA_3095</text>
<text transform="translate(1404.51 492.9) rotate(-90)" textLength="64.9" lengthAdjust="spacing">GXA_3011</text>
<text transform="translate(1420.65 492.9) rotate(-90)" textLength="64.9" lengthAdjust="spacing">GXA_3087</text>
<text transform="translate(1436.79 492.9) rotate(-90)" textLength="64.9" lengthAdjust="spacing">GXA_3079</text>
<text transform="translate(1452.93 492.9) rotate(-90)" textLength="64.9" lengthAdjust="spacing">GXA_3096</text>
<text transform="translate(1469.08 492.9) rotate(-90)" textLength="64.9" lengthAdjust="spacing">GXA_3024</text>
<text transform="translate(1485.22 492.9) rotate(-90)" textLength="64.9" lengthAdjust="spacing">GXA_3083</text>
<text transform="translate(1501.36 492.9) rotate(-90)" textLength="64.9" lengthAdjust="spacing">GXA_3052</text>
<text transform="translate(1517.51 492.9) rotate(-90)" textLength="64.9" lengthAdjust="spacing">GXA_3020</text>
<text transform="translate(1533.65 492.9) rotate(-90)" textLength="64.9" lengthAdjust="spacing">GXA_3069</text>
<text transform="translate(1549.79 492.9) rotate(-90)" textLength="64.9" lengthAdjust="spacing">GXA_3031</text>
<text transform="translate(1565.93 492.9) rotate(-90)" textLength="64.9" lengthAdjust="spacing">GXA_3090</text>
<text transform="translate(1582.08 492.9) rotate(-90)" textLength="64.9" lengthAdjust="spacing">GXA_3044</text>
<text transform="translate(1598.22 492.9) rotate(-90)" textLength="64.9" lengthAdjust="spacing">GXA_3036</text>
<text transform="translate(1614.36 492.9) rotate(-90)" textLength="64.9" lengthAdjust="spacing">GXA_3064</text>
<text transform="translate(1630.51 492.9) rotate(-90)" textLength="64.9" lengthAdjust="spacing">GXA_3005</text>
<text transform="translate(1646.65 492.9) rotate(-90)" textLength="64.9" lengthAdjust="spacing">GXA_3091</text>
<text transform="translate(1662.79 492.9) rotate(-90)" textLength="64.9" lengthAdjust="spacing">GXA_3023</text>
<text transform="translate(1678.94 492.9) rotate(-90)" textLength="64.9" lengthAdjust="spacing">GXA_3057</text>
<text transform="translate(1695.08 492.9) rotate(-90)" textLength="64.9" lengthAdjust="spacing">GXA_3037</text>
<text transform="translate(1711.22 492.9) rotate(-90)" textLength="64.9" lengthAdjust="spacing">GXA_3078</text>
<text transform="translate(1727.37 492.9) rotate(-90)" textLength="64.9" lengthAdjust="spacing">GXA_3026</text>
<text transform="translate(1743.51 492.9) rotate(-90)" textLength="64.9" lengthAdjust="spacing">GXA_3007</text>
<text transform="translate(1759.65 492.9) rotate(-90)" textLength="64.9" lengthAdjust="spacing">GXA_3002</text>
<text transform="translate(1775.79 492.9) rotate(-90)" textLength="64.9" lengthAdjust="spacing">GXA_3015</text>
<text transform="translate(1791.94 492.9) rotate(-90)" textLength="64.9" lengthAdjust="spacing">GXA_3025</text>
</g>
<g font-size="12.5">
<rect x="1819" y="-0.30" width="30.4" height="30.40" fill="#FBB829" stroke="#fff" stroke-width="1"/>
<text x="1853.6" y="21.40">Intestinal</text>
<rect x="1819" y="30.10" width="30.4" height="30.40" fill="#E03616" stroke="#fff" stroke-width="1"/>
<text x="1853.6" y="51.80">Diffuse</text>
<rect x="1819" y="60.50" width="30.4" height="30.40" fill="#F96A00" stroke="#fff" stroke-width="1"/>
<text x="1853.6" y="82.20">Mixed</text>
<rect x="1819" y="90.90" width="30.4" height="30.40" fill="#EDAADB" stroke="#fff" stroke-width="1"/>
<text x="1853.6" y="112.60">Low</text>
<rect x="1819" y="121.30" width="30.4" height="30.40" fill="#D12AA2" stroke="#fff" stroke-width="1"/>
<text x="1853.6" y="143.00">Intermediate</text>
<rect x="1819" y="151.70" width="30.4" height="30.40" fill="#911C70" stroke="#fff" stroke-width="1"/>
<text x="1853.6" y="173.40">High</text>
<rect x="1819" y="182.10" width="30.4" height="30.40" fill="#FC0068" stroke="#fff" stroke-width="1"/>
<text x="1853.6" y="203.80" textLength="38.4" lengthAdjust="spacing">EBV +</text>
<rect x="1819" y="212.50" width="30.4" height="30.40" fill="#4682B8" stroke="#fff" stroke-width="1"/>
<text x="1853.6" y="234.20" textLength="35.3" lengthAdjust="spacing">EBV -</text>
<rect x="1819" y="242.90" width="30.4" height="30.40" fill="#00AEEF" stroke="#fff" stroke-width="1"/>
<text x="1853.6" y="264.60" textLength="23.5" lengthAdjust="spacing">MSI</text>
<rect x="1819" y="273.30" width="30.4" height="30.40" fill="#77CBA5" stroke="#fff" stroke-width="1"/>
<text x="1853.6" y="295.00" textLength="28.4" lengthAdjust="spacing">MSS</text>
<rect x="1819" y="303.70" width="30.4" height="30.40" fill="#8A6FD6" stroke="#fff" stroke-width="1"/>
<text x="1853.6" y="325.40">CIN</text>
<rect x="1818" y="337.40" width="29.4" height="30.40" fill="#78B833" stroke="#fff" stroke-width="1"/>
<text x="1851.4" y="358.50">GS</text>
<rect x="1818" y="367.80" width="29.4" height="30.40" fill="#FF00EA" stroke="#fff" stroke-width="1"/>
<text x="1851.4" y="388.90" textLength="59.6" lengthAdjust="spacing">MSS/EMT</text>
<rect x="1818" y="398.20" width="29.4" height="30.40" fill="#B0F000" stroke="#fff" stroke-width="1"/>
<text x="1851.4" y="419.30" textLength="69.3" lengthAdjust="spacing">MSS/TP53+</text>
<rect x="1818" y="428.60" width="29.4" height="30.40" fill="#F4FF00" stroke="#fff" stroke-width="1"/>
<text x="1851.4" y="449.70" textLength="66.4" lengthAdjust="spacing">MSS/TP53-</text>
<rect x="1818" y="459.00" width="29.4" height="30.40" fill="#D52B52" stroke="#fff" stroke-width="1"/>
<text x="1851.4" y="480.10" textLength="99.8" lengthAdjust="spacing">CDH1 expression</text>
<rect x="1818" y="489.40" width="29.4" height="30.40" fill="#30807A" stroke="#fff" stroke-width="1"/>
<text x="1851.4" y="510.50">CDH1 loss</text>
<rect x="1818" y="519.80" width="29.4" height="30.40" fill="#F5540A" stroke="#fff" stroke-width="1"/>
<text x="1851.4" y="540.90">TP53 activation</text>
<rect x="1818" y="550.20" width="29.4" height="30.40" fill="#D1AA2D" stroke="#fff" stroke-width="1"/>
<text x="1851.4" y="571.30">TP53 inactivation</text>
<rect x="1818" y="580.60" width="29.4" height="30.40" fill="#EEEAF2" stroke="#fff" stroke-width="1"/>
<text x="1851.4" y="601.70">Unknown</text>
<rect x="1818" y="611.00" width="29.4" height="30.40" fill="#F8F6F9" stroke="#fff" stroke-width="1"/>
<text x="1851.4" y="632.10" textLength="89.0" lengthAdjust="spacing">Not established</text>
</g>
</svg></body></html>
